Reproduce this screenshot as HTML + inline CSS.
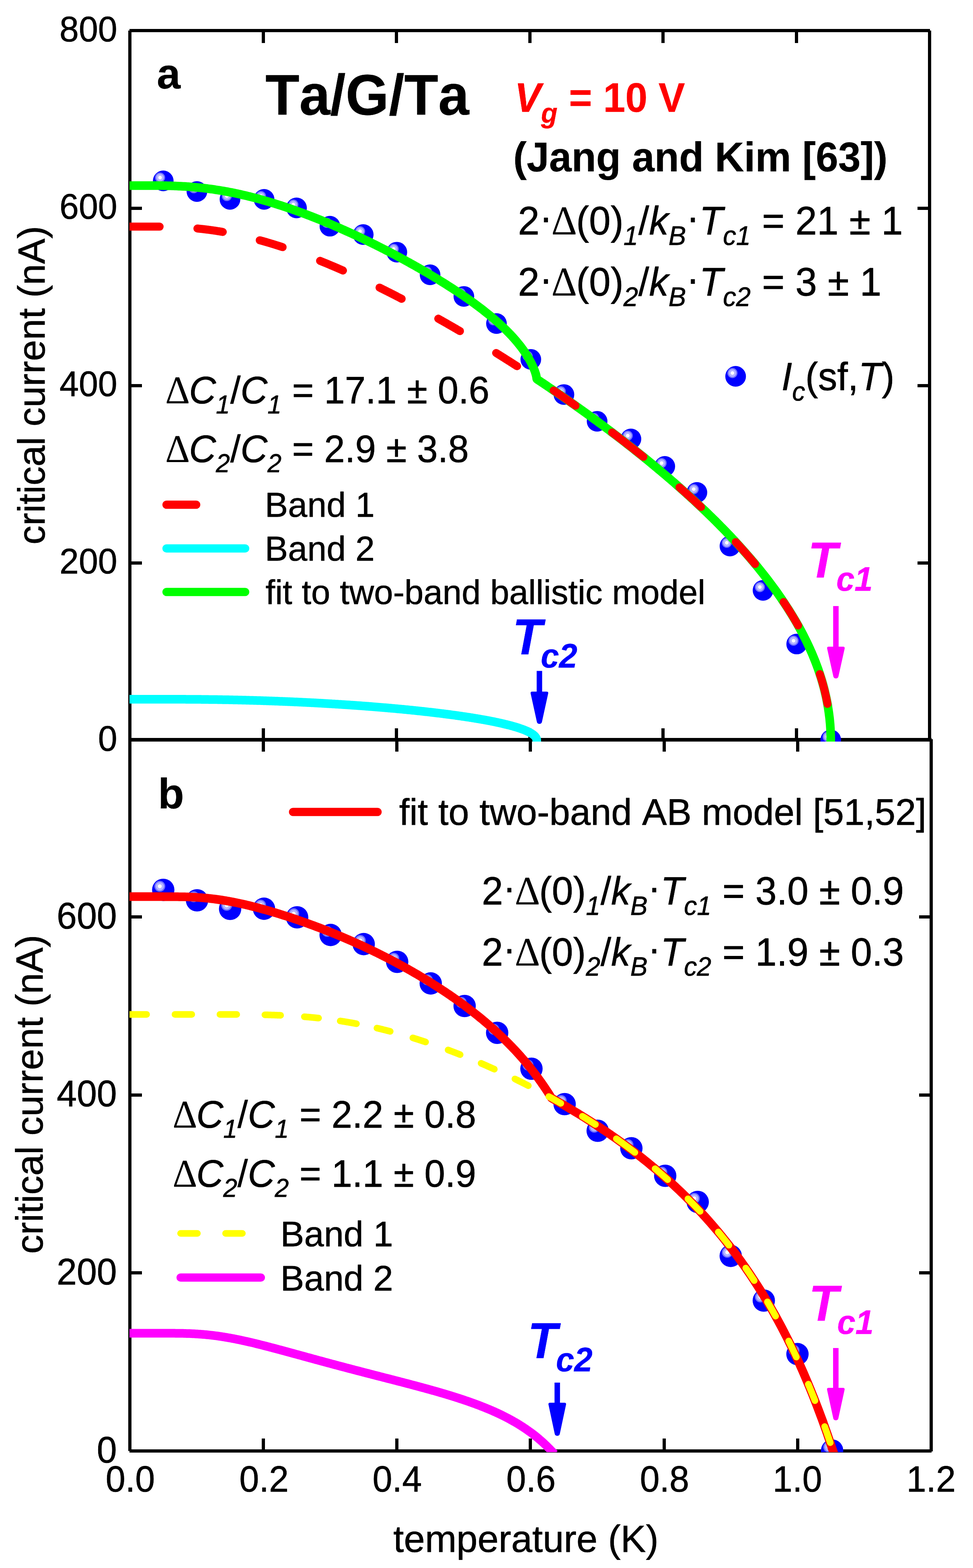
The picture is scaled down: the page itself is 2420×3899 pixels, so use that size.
<!DOCTYPE html>
<html><head><meta charset="utf-8"><title>Ta/G/Ta critical current</title>
<style>html,body{margin:0;padding:0;background:#fff}svg{display:block}text{font-kerning:none;text-rendering:geometricPrecision;white-space:pre}</style></head><body>
<svg width="2420" height="3899" viewBox="0 0 2420 3899">
<rect width="2420" height="3899" fill="#fff"/>
<defs><clipPath id="ca"><rect x="322" y="72" width="1994" height="1772"/></clipPath><clipPath id="cb"><rect x="322" y="1836" width="1998" height="1775"/></clipPath></defs>
<g fill="#000" shape-rendering="crispEdges">
<rect x="319.0" y="76.0" width="8.0" height="3532.0"/>
<rect x="322.0" y="72.0" width="1991.0" height="8.0"/>
<rect x="2308.0" y="76.0" width="8.0" height="1762.0"/>
<rect x="322.0" y="1835.0" width="1995.0" height="9.0"/>
<rect x="2312.0" y="1838.0" width="8.0" height="1771.0"/>
<rect x="322.0" y="3604.0" width="1995.0" height="8.0"/>
<rect x="651.0" y="80.0" width="8.0" height="27.0"/>
<rect x="651.0" y="1811.0" width="8.0" height="25.0"/>
<rect x="651.0" y="1843.0" width="8.0" height="26.0"/>
<rect x="651.0" y="3577.0" width="8.0" height="28.0"/>
<rect x="982.0" y="80.0" width="8.0" height="27.0"/>
<rect x="982.0" y="1811.0" width="8.0" height="25.0"/>
<rect x="983.0" y="1843.0" width="8.0" height="26.0"/>
<rect x="983.0" y="3577.0" width="8.0" height="28.0"/>
<rect x="1314.0" y="80.0" width="8.0" height="27.0"/>
<rect x="1314.0" y="1811.0" width="8.0" height="25.0"/>
<rect x="1315.0" y="1843.0" width="8.0" height="26.0"/>
<rect x="1315.0" y="3577.0" width="8.0" height="28.0"/>
<rect x="1645.0" y="80.0" width="8.0" height="27.0"/>
<rect x="1645.0" y="1811.0" width="8.0" height="25.0"/>
<rect x="1648.0" y="1843.0" width="8.0" height="26.0"/>
<rect x="1648.0" y="3577.0" width="8.0" height="28.0"/>
<rect x="1977.0" y="80.0" width="8.0" height="27.0"/>
<rect x="1977.0" y="1811.0" width="8.0" height="25.0"/>
<rect x="1980.0" y="1843.0" width="8.0" height="26.0"/>
<rect x="1980.0" y="3577.0" width="8.0" height="28.0"/>
<rect x="327.0" y="1396.0" width="26.0" height="8.0"/>
<rect x="2282.0" y="1396.0" width="26.0" height="8.0"/>
<rect x="327.0" y="3161.0" width="26.0" height="8.0"/>
<rect x="2286.0" y="3161.0" width="26.0" height="8.0"/>
<rect x="327.0" y="955.0" width="26.0" height="8.0"/>
<rect x="2282.0" y="955.0" width="26.0" height="8.0"/>
<rect x="327.0" y="2719.0" width="26.0" height="8.0"/>
<rect x="2286.0" y="2719.0" width="26.0" height="8.0"/>
<rect x="327.0" y="514.0" width="26.0" height="8.0"/>
<rect x="2282.0" y="514.0" width="26.0" height="8.0"/>
<rect x="327.0" y="2276.0" width="26.0" height="8.0"/>
<rect x="2286.0" y="2276.0" width="26.0" height="8.0"/>
</g>
<g clip-path="url(#ca)">
<circle cx="406.0" cy="449.8" r="25.7" fill="#0000ff"/>
<circle cx="398.1" cy="441.6" r="12.6" fill="#7070ff"/>
<circle cx="398.1" cy="441.6" r="9.6" fill="#b4b4ff"/>
<circle cx="398.1" cy="441.6" r="4.5" fill="#fcfcff"/>
<circle cx="489.8" cy="476.2" r="25.7" fill="#0000ff"/>
<circle cx="481.9" cy="468.0" r="12.6" fill="#7070ff"/>
<circle cx="481.9" cy="468.0" r="9.6" fill="#b4b4ff"/>
<circle cx="481.9" cy="468.0" r="4.5" fill="#fcfcff"/>
<circle cx="572.0" cy="495.7" r="25.7" fill="#0000ff"/>
<circle cx="564.1" cy="487.5" r="12.6" fill="#7070ff"/>
<circle cx="564.1" cy="487.5" r="9.6" fill="#b4b4ff"/>
<circle cx="564.1" cy="487.5" r="4.5" fill="#fcfcff"/>
<circle cx="656.8" cy="495.7" r="25.7" fill="#0000ff"/>
<circle cx="648.9" cy="487.5" r="12.6" fill="#7070ff"/>
<circle cx="648.9" cy="487.5" r="9.6" fill="#b4b4ff"/>
<circle cx="648.9" cy="487.5" r="4.5" fill="#fcfcff"/>
<circle cx="737.5" cy="517.0" r="25.7" fill="#0000ff"/>
<circle cx="729.6" cy="508.8" r="12.6" fill="#7070ff"/>
<circle cx="729.6" cy="508.8" r="9.6" fill="#b4b4ff"/>
<circle cx="729.6" cy="508.8" r="4.5" fill="#fcfcff"/>
<circle cx="820.5" cy="562.4" r="25.7" fill="#0000ff"/>
<circle cx="812.6" cy="554.2" r="12.6" fill="#7070ff"/>
<circle cx="812.6" cy="554.2" r="9.6" fill="#b4b4ff"/>
<circle cx="812.6" cy="554.2" r="4.5" fill="#fcfcff"/>
<circle cx="903.4" cy="583.3" r="25.7" fill="#0000ff"/>
<circle cx="895.5" cy="575.1" r="12.6" fill="#7070ff"/>
<circle cx="895.5" cy="575.1" r="9.6" fill="#b4b4ff"/>
<circle cx="895.5" cy="575.1" r="4.5" fill="#fcfcff"/>
<circle cx="987.0" cy="627.1" r="25.7" fill="#0000ff"/>
<circle cx="979.1" cy="618.9" r="12.6" fill="#7070ff"/>
<circle cx="979.1" cy="618.9" r="9.6" fill="#b4b4ff"/>
<circle cx="979.1" cy="618.9" r="4.5" fill="#fcfcff"/>
<circle cx="1069.7" cy="683.3" r="25.7" fill="#0000ff"/>
<circle cx="1061.8" cy="675.1" r="12.6" fill="#7070ff"/>
<circle cx="1061.8" cy="675.1" r="9.6" fill="#b4b4ff"/>
<circle cx="1061.8" cy="675.1" r="4.5" fill="#fcfcff"/>
<circle cx="1153.7" cy="737.1" r="25.7" fill="#0000ff"/>
<circle cx="1145.8" cy="728.9" r="12.6" fill="#7070ff"/>
<circle cx="1145.8" cy="728.9" r="9.6" fill="#b4b4ff"/>
<circle cx="1145.8" cy="728.9" r="4.5" fill="#fcfcff"/>
<circle cx="1234.8" cy="804.5" r="25.7" fill="#0000ff"/>
<circle cx="1226.9" cy="796.3" r="12.6" fill="#7070ff"/>
<circle cx="1226.9" cy="796.3" r="9.6" fill="#b4b4ff"/>
<circle cx="1226.9" cy="796.3" r="4.5" fill="#fcfcff"/>
<circle cx="1320.2" cy="893.6" r="25.7" fill="#0000ff"/>
<circle cx="1312.3" cy="885.4" r="12.6" fill="#7070ff"/>
<circle cx="1312.3" cy="885.4" r="9.6" fill="#b4b4ff"/>
<circle cx="1312.3" cy="885.4" r="4.5" fill="#fcfcff"/>
<circle cx="1402.6" cy="981.1" r="25.7" fill="#0000ff"/>
<circle cx="1394.7" cy="972.9" r="12.6" fill="#7070ff"/>
<circle cx="1394.7" cy="972.9" r="9.6" fill="#b4b4ff"/>
<circle cx="1394.7" cy="972.9" r="4.5" fill="#fcfcff"/>
<circle cx="1485.1" cy="1047.6" r="25.7" fill="#0000ff"/>
<circle cx="1477.2" cy="1039.4" r="12.6" fill="#7070ff"/>
<circle cx="1477.2" cy="1039.4" r="9.6" fill="#b4b4ff"/>
<circle cx="1477.2" cy="1039.4" r="4.5" fill="#fcfcff"/>
<circle cx="1569.2" cy="1091.5" r="25.7" fill="#0000ff"/>
<circle cx="1561.3" cy="1083.3" r="12.6" fill="#7070ff"/>
<circle cx="1561.3" cy="1083.3" r="9.6" fill="#b4b4ff"/>
<circle cx="1561.3" cy="1083.3" r="4.5" fill="#fcfcff"/>
<circle cx="1653.4" cy="1159.7" r="25.7" fill="#0000ff"/>
<circle cx="1645.5" cy="1151.5" r="12.6" fill="#7070ff"/>
<circle cx="1645.5" cy="1151.5" r="9.6" fill="#b4b4ff"/>
<circle cx="1645.5" cy="1151.5" r="4.5" fill="#fcfcff"/>
<circle cx="1733.3" cy="1224.5" r="25.7" fill="#0000ff"/>
<circle cx="1725.4" cy="1216.3" r="12.6" fill="#7070ff"/>
<circle cx="1725.4" cy="1216.3" r="9.6" fill="#b4b4ff"/>
<circle cx="1725.4" cy="1216.3" r="4.5" fill="#fcfcff"/>
<circle cx="1815.5" cy="1357.8" r="25.7" fill="#0000ff"/>
<circle cx="1807.6" cy="1349.6" r="12.6" fill="#7070ff"/>
<circle cx="1807.6" cy="1349.6" r="9.6" fill="#b4b4ff"/>
<circle cx="1807.6" cy="1349.6" r="4.5" fill="#fcfcff"/>
<circle cx="1897.8" cy="1468.0" r="25.7" fill="#0000ff"/>
<circle cx="1889.9" cy="1459.8" r="12.6" fill="#7070ff"/>
<circle cx="1889.9" cy="1459.8" r="9.6" fill="#b4b4ff"/>
<circle cx="1889.9" cy="1459.8" r="4.5" fill="#fcfcff"/>
<circle cx="1981.5" cy="1601.4" r="25.7" fill="#0000ff"/>
<circle cx="1973.6" cy="1593.2" r="12.6" fill="#7070ff"/>
<circle cx="1973.6" cy="1593.2" r="9.6" fill="#b4b4ff"/>
<circle cx="1973.6" cy="1593.2" r="4.5" fill="#fcfcff"/>
<circle cx="2066.2" cy="1840.0" r="25.7" fill="#0000ff"/>
<circle cx="2058.3" cy="1831.8" r="12.6" fill="#7070ff"/>
<circle cx="2058.3" cy="1831.8" r="9.6" fill="#b4b4ff"/>
<circle cx="2058.3" cy="1831.8" r="4.5" fill="#fcfcff"/>
<path d="M323.0 1738.7 L325.0 1738.7 L327.1 1738.7 L329.1 1738.7 L331.1 1738.7 L333.1 1738.7 L335.2 1738.7 L337.2 1738.7 L339.2 1738.7 L341.3 1738.7 L343.3 1738.7 L345.3 1738.7 L347.3 1738.7 L349.4 1738.7 L351.4 1738.7 L353.4 1738.7 L355.4 1738.7 L357.5 1738.7 L359.5 1738.7 L361.5 1738.7 L363.6 1738.7 L365.6 1738.7 L367.6 1738.7 L369.6 1738.7 L371.7 1738.7 L373.7 1738.7 L375.7 1738.7 L377.8 1738.7 L379.8 1738.7 L381.8 1738.7 L383.8 1738.7 L385.9 1738.7 L387.9 1738.7 L389.9 1738.7 L391.9 1738.7 L394.0 1738.7 L396.0 1738.7 L398.0 1738.7 L400.1 1738.7 L402.1 1738.7 L404.1 1738.7 L406.1 1738.7 L408.2 1738.7 L410.2 1738.7 L412.2 1738.7 L414.3 1738.7 L416.3 1738.7 L418.3 1738.7 L420.3 1738.7 L422.4 1738.7 L424.4 1738.7 L426.4 1738.7 L428.4 1738.7 L430.5 1738.7 L432.5 1738.7 L434.5 1738.7 L436.6 1738.7 L438.6 1738.7 L440.6 1738.8 L442.6 1738.8 L444.7 1738.8 L446.7 1738.8 L448.7 1738.8 L450.8 1738.8 L452.8 1738.8 L454.8 1738.8 L456.8 1738.8 L458.9 1738.8 L460.9 1738.8 L462.9 1738.9 L464.9 1738.9 L467.0 1738.9 L469.0 1738.9 L471.0 1738.9 L473.1 1738.9 L475.1 1738.9 L477.1 1738.9 L479.1 1739.0 L481.2 1739.0 L483.2 1739.0 L485.2 1739.0 L487.3 1739.0 L489.3 1739.0 L491.3 1739.1 L493.3 1739.1 L495.4 1739.1 L497.4 1739.1 L499.4 1739.1 L501.4 1739.2 L503.5 1739.2 L505.5 1739.2 L507.5 1739.2 L509.6 1739.2 L511.6 1739.3 L513.6 1739.3 L515.6 1739.3 L517.7 1739.3 L519.7 1739.4 L521.7 1739.4 L523.8 1739.4 L525.8 1739.4 L527.8 1739.5 L529.8 1739.5 L531.9 1739.5 L533.9 1739.6 L535.9 1739.6 L537.9 1739.6 L540.0 1739.6 L542.0 1739.7 L544.0 1739.7 L546.1 1739.7 L548.1 1739.8 L550.1 1739.8 L552.1 1739.8 L554.2 1739.9 L556.2 1739.9 L558.2 1740.0 L560.3 1740.0 L562.3 1740.0 L564.3 1740.1 L566.3 1740.1 L568.4 1740.1 L570.4 1740.2 L572.4 1740.2 L574.4 1740.3 L576.5 1740.3 L578.5 1740.3 L580.5 1740.4 L582.6 1740.4 L584.6 1740.5 L586.6 1740.5 L588.6 1740.6 L590.7 1740.6 L592.7 1740.7 L594.7 1740.7 L596.8 1740.8 L598.8 1740.8 L600.8 1740.8 L602.8 1740.9 L604.9 1740.9 L606.9 1741.0 L608.9 1741.1 L610.9 1741.1 L613.0 1741.2 L615.0 1741.2 L617.0 1741.3 L619.1 1741.3 L621.1 1741.4 L623.1 1741.4 L625.1 1741.5 L627.2 1741.5 L629.2 1741.6 L631.2 1741.7 L633.3 1741.7 L635.3 1741.8 L637.3 1741.8 L639.3 1741.9 L641.4 1742.0 L643.4 1742.0 L645.4 1742.1 L647.4 1742.1 L649.5 1742.2 L651.5 1742.3 L653.5 1742.3 L655.6 1742.4 L657.6 1742.5 L659.6 1742.5 L661.6 1742.6 L663.7 1742.7 L665.7 1742.7 L667.7 1742.8 L669.8 1742.9 L671.8 1743.0 L673.8 1743.0 L675.8 1743.1 L677.9 1743.2 L679.9 1743.2 L681.9 1743.3 L684.0 1743.4 L686.0 1743.5 L688.0 1743.5 L690.0 1743.6 L692.1 1743.7 L694.1 1743.8 L696.1 1743.9 L698.1 1743.9 L700.2 1744.0 L702.2 1744.1 L704.2 1744.2 L706.3 1744.3 L708.3 1744.3 L710.3 1744.4 L712.3 1744.5 L714.4 1744.6 L716.4 1744.7 L718.4 1744.8 L720.5 1744.8 L722.5 1744.9 L724.5 1745.0 L726.5 1745.1 L728.6 1745.2 L730.6 1745.3 L732.6 1745.4 L734.6 1745.5 L736.7 1745.6 L738.7 1745.6 L740.7 1745.7 L742.8 1745.8 L744.8 1745.9 L746.8 1746.0 L748.8 1746.1 L750.9 1746.2 L752.9 1746.3 L754.9 1746.4 L757.0 1746.5 L759.0 1746.6 L761.0 1746.7 L763.0 1746.8 L765.1 1746.9 L767.1 1747.0 L769.1 1747.1 L771.1 1747.2 L773.2 1747.3 L775.2 1747.4 L777.2 1747.5 L779.3 1747.6 L781.3 1747.7 L783.3 1747.8 L785.3 1748.0 L787.4 1748.1 L789.4 1748.2 L791.4 1748.3 L793.5 1748.4 L795.5 1748.5 L797.5 1748.6 L799.5 1748.7 L801.6 1748.8 L803.6 1749.0 L805.6 1749.1 L807.6 1749.2 L809.7 1749.3 L811.7 1749.4 L813.7 1749.5 L815.8 1749.7 L817.8 1749.8 L819.8 1749.9 L821.8 1750.0 L823.9 1750.1 L825.9 1750.3 L827.9 1750.4 L830.0 1750.5 L832.0 1750.6 L834.0 1750.8 L836.0 1750.9 L838.1 1751.0 L840.1 1751.1 L842.1 1751.3 L844.1 1751.4 L846.2 1751.5 L848.2 1751.6 L850.2 1751.8 L852.3 1751.9 L854.3 1752.0 L856.3 1752.2 L858.3 1752.3 L860.4 1752.4 L862.4 1752.6 L864.4 1752.7 L866.5 1752.8 L868.5 1753.0 L870.5 1753.1 L872.5 1753.3 L874.6 1753.4 L876.6 1753.5 L878.6 1753.7 L880.6 1753.8 L882.7 1754.0 L884.7 1754.1 L886.7 1754.2 L888.8 1754.4 L890.8 1754.5 L892.8 1754.7 L894.8 1754.8 L896.9 1755.0 L898.9 1755.1 L900.9 1755.3 L903.0 1755.4 L905.0 1755.6 L907.0 1755.7 L909.0 1755.9 L911.1 1756.0 L913.1 1756.2 L915.1 1756.3 L917.1 1756.5 L919.2 1756.7 L921.2 1756.8 L923.2 1757.0 L925.3 1757.1 L927.3 1757.3 L929.3 1757.4 L931.3 1757.6 L933.4 1757.8 L935.4 1757.9 L937.4 1758.1 L939.5 1758.3 L941.5 1758.4 L943.5 1758.6 L945.5 1758.8 L947.6 1758.9 L949.6 1759.1 L951.6 1759.3 L953.6 1759.4 L955.7 1759.6 L957.7 1759.8 L959.7 1760.0 L961.8 1760.1 L963.8 1760.3 L965.8 1760.5 L967.8 1760.7 L969.9 1760.8 L971.9 1761.0 L973.9 1761.2 L976.0 1761.4 L978.0 1761.6 L980.0 1761.7 L982.0 1761.9 L984.1 1762.1 L986.1 1762.3 L988.1 1762.5 L990.1 1762.7 L992.2 1762.9 L994.2 1763.1 L996.2 1763.2 L998.3 1763.4 L1000.3 1763.6 L1002.3 1763.8 L1004.3 1764.0 L1006.4 1764.2 L1008.4 1764.4 L1010.4 1764.6 L1012.5 1764.8 L1014.5 1765.0 L1016.5 1765.2 L1018.5 1765.4 L1020.6 1765.6 L1022.6 1765.8 L1024.6 1766.0 L1026.7 1766.2 L1028.7 1766.4 L1030.7 1766.6 L1032.7 1766.8 L1034.8 1767.1 L1036.8 1767.3 L1038.8 1767.5 L1040.8 1767.7 L1042.9 1767.9 L1044.9 1768.1 L1046.9 1768.3 L1049.0 1768.6 L1051.0 1768.8 L1053.0 1769.0 L1055.0 1769.2 L1057.1 1769.5 L1059.1 1769.7 L1061.1 1769.9 L1063.2 1770.1 L1065.2 1770.4 L1067.2 1770.6 L1069.2 1770.8 L1071.3 1771.0 L1073.3 1771.3 L1075.3 1771.5 L1077.3 1771.8 L1079.4 1772.0 L1081.4 1772.2 L1083.4 1772.5 L1085.5 1772.7 L1087.5 1773.0 L1089.5 1773.2 L1091.5 1773.4 L1093.6 1773.7 L1095.6 1773.9 L1097.6 1774.2 L1099.7 1774.4 L1101.7 1774.7 L1103.7 1775.0 L1105.7 1775.2 L1107.8 1775.5 L1109.8 1775.7 L1111.8 1776.0 L1113.8 1776.3 L1115.9 1776.5 L1117.9 1776.8 L1119.9 1777.0 L1122.0 1777.3 L1124.0 1777.6 L1126.0 1777.9 L1128.0 1778.1 L1130.1 1778.4 L1132.1 1778.7 L1134.1 1779.0 L1136.2 1779.3 L1138.2 1779.5 L1140.2 1779.8 L1142.2 1780.1 L1144.3 1780.4 L1146.3 1780.7 L1148.3 1781.0 L1150.3 1781.3 L1152.4 1781.6 L1154.4 1781.9 L1156.4 1782.2 L1158.5 1782.5 L1160.5 1782.8 L1162.5 1783.1 L1164.5 1783.4 L1166.6 1783.7 L1168.6 1784.0 L1170.6 1784.4 L1172.7 1784.7 L1174.7 1785.0 L1176.7 1785.3 L1178.7 1785.6 L1180.8 1786.0 L1182.8 1786.3 L1184.8 1786.6 L1186.8 1787.0 L1188.9 1787.3 L1190.9 1787.7 L1192.9 1788.0 L1195.0 1788.4 L1197.0 1788.7 L1199.0 1789.1 L1201.0 1789.4 L1203.1 1789.8 L1205.1 1790.2 L1207.1 1790.5 L1209.2 1790.9 L1211.2 1791.3 L1213.2 1791.7 L1215.2 1792.0 L1217.3 1792.4 L1219.3 1792.8 L1221.3 1793.2 L1223.3 1793.6 L1225.4 1794.0 L1227.4 1794.4 L1229.4 1794.8 L1231.5 1795.3 L1233.5 1795.7 L1235.5 1796.1 L1237.5 1796.5 L1239.6 1797.0 L1241.6 1797.4 L1243.6 1797.9 L1245.7 1798.3 L1247.7 1798.8 L1249.7 1799.2 L1251.7 1799.7 L1253.8 1800.2 L1255.8 1800.7 L1257.8 1801.2 L1259.8 1801.6 L1261.9 1802.2 L1263.9 1802.7 L1265.7 1803.1 L1268.0 1803.7 L1270.0 1804.3 L1272.0 1804.8 L1274.0 1805.4 L1276.1 1805.9 L1277.3 1806.3 L1280.1 1807.1 L1282.2 1807.7 L1284.2 1808.3 L1286.2 1808.9 L1288.2 1809.6 L1290.3 1810.2 L1292.3 1810.9 L1294.3 1811.6 L1296.3 1812.3 L1298.4 1813.0 L1300.4 1813.8 L1301.7 1814.2 L1304.5 1815.3 L1306.5 1816.2 L1308.5 1817.0 L1310.5 1817.9 L1311.9 1818.5 L1314.6 1819.8 L1315.7 1820.4 L1318.7 1821.9 L1320.7 1823.1 L1322.7 1824.4 L1323.8 1825.1 L1324.7 1825.7 L1325.7 1826.4 L1326.8 1827.3 L1328.5 1828.7 L1329.6 1829.7 L1330.5 1830.7 L1331.2 1831.5 L1332.3 1833.0 L1333.1 1834.2 L1333.7 1835.2 L1334.2 1836.5 L1334.5 1837.7 L1334.8 1839.0 L1334.9 1840.5" fill="none" stroke="#00ffff" stroke-width="21.5" stroke-linecap="square" stroke-linejoin="round"/>
<path d="M323.0 461.4 L326.5 461.4 L330.0 461.4 L333.5 461.4 L337.0 461.4 L340.5 461.4 L344.0 461.4 L347.5 461.4 L350.9 461.4 L354.4 461.4 L357.9 461.4 L361.4 461.4 L364.9 461.4 L368.4 461.4 L371.9 461.4 L375.4 461.4 L378.9 461.5 L382.4 461.5 L385.9 461.5 L389.4 461.5 L392.9 461.5 L396.4 461.6 L399.9 461.6 L403.3 461.6 L406.8 461.7 L410.3 461.8 L413.8 461.8 L417.3 461.9 L420.8 462.0 L424.3 462.1 L427.8 462.2 L431.3 462.3 L434.8 462.4 L438.3 462.6 L441.8 462.7 L445.3 462.9 L448.8 463.0 L452.3 463.2 L455.8 463.4 L459.2 463.6 L462.7 463.8 L466.2 464.1 L469.7 464.3 L473.2 464.6 L476.7 464.9 L480.2 465.2 L483.7 465.5 L487.2 465.8 L490.7 466.1 L494.2 466.5 L497.7 466.8 L501.2 467.2 L504.7 467.6 L508.2 468.0 L511.6 468.4 L515.1 468.8 L518.6 469.3 L522.1 469.8 L525.6 470.2 L529.1 470.7 L532.6 471.2 L536.1 471.8 L539.6 472.3 L543.1 472.8 L546.6 473.4 L550.1 474.0 L553.6 474.6 L557.1 475.2 L560.6 475.8 L564.0 476.4 L567.5 477.1 L571.0 477.8 L574.5 478.4 L578.0 479.1 L581.5 479.8 L585.0 480.6 L588.5 481.3 L592.0 482.1 L595.5 482.8 L599.0 483.6 L602.5 484.4 L606.0 485.2 L609.5 486.0 L613.0 486.8 L616.4 487.7 L619.9 488.5 L623.4 489.4 L626.9 490.3 L630.4 491.2 L633.9 492.1 L637.4 493.0 L640.9 493.9 L644.4 494.9 L647.9 495.8 L651.4 496.8 L654.9 497.8 L658.4 498.8 L661.9 499.8 L665.4 500.8 L668.8 501.8 L672.3 502.9 L675.8 503.9 L679.3 505.0 L682.8 506.1 L686.3 507.2 L689.8 508.3 L693.3 509.4 L696.8 510.5 L700.3 511.6 L703.8 512.8 L707.3 513.9 L710.8 515.1 L714.3 516.3 L717.8 517.5 L721.3 518.7 L724.7 519.9 L728.2 521.1 L731.7 522.3 L735.2 523.5 L738.7 524.8 L742.2 526.1 L745.7 527.3 L749.2 528.6 L752.7 529.9 L756.2 531.2 L759.7 532.5 L763.2 533.8 L766.7 535.2 L770.2 536.5 L773.7 537.8 L777.1 539.2 L780.6 540.6 L784.1 541.9 L787.6 543.3 L791.1 544.7 L794.6 546.1 L798.1 547.5 L801.6 549.0 L805.1 550.4 L808.6 551.8 L812.1 553.3 L815.6 554.7 L819.1 556.2 L822.6 557.7 L826.1 559.2 L829.5 560.6 L833.0 562.1 L836.5 563.7 L840.0 565.2 L843.5 566.7 L847.0 568.2 L850.5 569.8 L854.0 571.3 L857.5 572.9 L861.0 574.5 L864.5 576.0 L868.0 577.6 L871.5 579.2 L875.0 580.8 L878.5 582.4 L881.9 584.0 L885.4 585.7 L888.9 587.3 L892.4 588.9 L895.9 590.6 L899.4 592.2 L902.9 593.9 L906.4 595.6 L909.9 597.3 L913.4 598.9 L916.9 600.6 L920.4 602.4 L923.9 604.1 L927.4 605.8 L930.9 607.5 L934.4 609.2 L937.8 611.0 L941.3 612.7 L944.8 614.5 L948.3 616.3 L951.8 618.0 L955.3 619.8 L958.8 621.6 L962.3 623.4 L965.8 625.2 L969.3 627.0 L972.8 628.9 L976.3 630.7 L979.8 632.5 L983.3 634.4 L986.8 636.2 L990.2 638.1 L993.7 640.0 L997.2 641.9 L1000.7 643.7 L1004.2 645.6 L1007.7 647.5 L1011.2 649.5 L1014.7 651.4 L1018.2 653.3 L1021.7 655.3 L1025.2 657.2 L1028.7 659.2 L1032.2 661.1 L1035.7 663.1 L1039.2 665.1 L1042.6 667.1 L1046.1 669.1 L1049.6 671.1 L1053.1 673.1 L1056.6 675.2 L1060.1 677.2 L1063.6 679.2 L1067.1 681.3 L1070.6 683.4 L1074.1 685.5 L1077.6 687.6 L1081.1 689.7 L1084.6 691.8 L1088.1 693.9 L1091.6 696.0 L1095.0 698.2 L1098.5 700.4 L1102.0 702.5 L1105.5 704.7 L1109.0 706.9 L1112.5 709.1 L1116.0 711.4 L1119.5 713.6 L1123.0 715.8 L1126.5 718.1 L1130.0 720.4 L1133.5 722.7 L1137.0 725.0 L1140.5 727.3 L1144.0 729.7 L1147.4 732.0 L1150.9 734.4 L1154.4 736.8 L1157.9 739.2 L1161.4 741.6 L1164.9 744.1 L1168.4 746.6 L1171.9 749.1 L1175.4 751.6 L1178.9 754.1 L1182.4 756.7 L1185.9 759.2 L1189.4 761.8 L1192.9 764.5 L1196.4 767.1 L1199.9 769.8 L1203.3 772.5 L1206.8 775.3 L1210.3 778.1 L1213.8 780.9 L1217.3 783.7 L1220.8 786.6 L1224.3 789.5 L1227.8 792.5 L1231.3 795.5 L1234.8 798.5 L1238.3 801.6 L1241.8 804.8 L1245.3 808.0 L1248.8 811.2 L1251.8 814.1 L1255.7 817.9 L1259.2 821.3 L1262.7 824.8 L1265.7 827.8 L1269.7 832.0 L1273.2 835.8 L1276.7 839.6 L1280.2 843.6 L1283.7 847.6 L1286.9 851.5 L1290.7 856.1 L1294.2 860.5 L1295.0 861.5 L1297.7 865.1 L1301.2 869.9 L1304.7 874.9 L1307.2 878.7 L1308.1 880.1 L1311.6 885.6 L1315.1 891.4 L1315.7 892.4 L1318.6 897.6 L1321.6 903.2 L1322.1 904.3 L1323.8 907.8 L1325.6 911.6 L1327.2 915.3 L1328.5 918.5 L1329.1 920.0 L1329.6 921.3 L1330.5 923.7 L1331.2 925.9 L1331.8 927.8 L1332.3 929.5 L1332.8 931.0 L1333.1 932.4 L1333.7 934.6 L1334.0 936.3 L1334.3 937.6 L1334.5 939.1 L1334.7 940.7 L1334.9 942.1 L1335.6 943.0 L1336.6 943.7 L1337.9 944.6 L1339.3 945.5 L1341.3 946.8 L1342.5 947.7 L1344.1 948.7 L1345.9 949.9 L1348.2 951.4 L1350.1 952.7 L1353.6 955.0 L1357.1 957.4 L1360.5 959.7 L1362.5 961.1 L1364.0 962.1 L1367.5 964.5 L1371.0 966.9 L1374.5 969.2 L1378.0 971.6 L1381.5 974.0 L1382.8 974.9 L1385.0 976.4 L1388.5 978.8 L1392.0 981.2 L1395.5 983.6 L1399.0 986.0 L1402.5 988.5 L1404.0 989.6 L1406.0 990.9 L1409.5 993.3 L1412.9 995.8 L1416.4 998.2 L1418.0 999.3 L1419.9 1000.7 L1423.4 1003.1 L1426.9 1005.6 L1430.4 1008.0 L1433.9 1010.5 L1437.4 1013.0 L1440.9 1015.5 L1444.4 1018.0 L1447.9 1020.5 L1451.4 1023.0 L1454.9 1025.5 L1458.4 1028.0 L1461.9 1030.5 L1465.4 1033.1 L1468.8 1035.6 L1472.3 1038.2 L1475.8 1040.7 L1479.3 1043.3 L1482.8 1045.8 L1486.3 1048.4 L1489.8 1051.0 L1493.3 1053.6 L1496.8 1056.1 L1500.3 1058.7 L1503.8 1061.3 L1507.3 1064.0 L1510.8 1066.6 L1514.3 1069.2 L1517.8 1071.8 L1521.2 1074.5 L1524.7 1077.1 L1528.2 1079.8 L1531.7 1082.4 L1535.2 1085.1 L1538.7 1087.8 L1542.2 1090.4 L1545.7 1093.1 L1549.2 1095.8 L1552.7 1098.5 L1556.2 1101.2 L1559.7 1104.0 L1563.2 1106.7 L1566.7 1109.4 L1570.2 1112.2 L1573.6 1114.9 L1577.1 1117.7 L1580.6 1120.5 L1584.1 1123.2 L1587.6 1126.0 L1591.1 1128.8 L1594.6 1131.6 L1598.1 1134.4 L1601.6 1137.2 L1605.1 1140.1 L1608.6 1142.9 L1612.1 1145.8 L1615.6 1148.6 L1619.1 1151.5 L1622.6 1154.4 L1626.0 1157.2 L1629.5 1160.1 L1633.0 1163.0 L1636.5 1166.0 L1640.0 1168.9 L1643.5 1171.8 L1647.0 1174.8 L1650.5 1177.7 L1654.0 1180.7 L1657.5 1183.7 L1661.0 1186.6 L1664.5 1189.6 L1668.0 1192.6 L1671.5 1195.7 L1675.0 1198.7 L1678.5 1201.7 L1681.9 1204.8 L1685.4 1207.9 L1688.9 1210.9 L1692.4 1214.0 L1695.9 1217.1 L1699.4 1220.2 L1702.9 1223.4 L1706.4 1226.5 L1709.9 1229.7 L1713.4 1232.8 L1716.9 1236.0 L1720.4 1239.2 L1723.9 1242.4 L1727.4 1245.6 L1730.9 1248.9 L1734.3 1252.1 L1737.8 1255.4 L1741.3 1258.7 L1744.8 1262.0 L1748.3 1265.3 L1751.8 1268.6 L1755.3 1271.9 L1758.8 1275.3 L1762.3 1278.7 L1765.8 1282.1 L1769.3 1285.5 L1772.8 1288.9 L1776.3 1292.4 L1779.8 1295.8 L1783.3 1299.3 L1786.7 1302.8 L1790.2 1306.3 L1793.7 1309.9 L1797.2 1313.4 L1800.7 1317.0 L1804.2 1320.6 L1807.7 1324.2 L1811.2 1327.9 L1814.7 1331.5 L1818.2 1335.2 L1821.7 1339.0 L1825.2 1342.7 L1828.7 1346.4 L1832.2 1350.2 L1835.7 1354.0 L1839.1 1357.9 L1842.6 1361.7 L1846.1 1365.6 L1849.6 1369.6 L1853.1 1373.5 L1856.6 1377.5 L1860.1 1381.5 L1863.6 1385.5 L1867.1 1389.6 L1870.6 1393.7 L1874.1 1397.8 L1877.6 1402.0 L1881.1 1406.2 L1884.6 1410.4 L1888.1 1414.7 L1891.5 1419.0 L1895.0 1423.4 L1898.5 1427.8 L1902.0 1432.2 L1905.5 1436.7 L1909.0 1441.2 L1912.5 1445.8 L1916.0 1450.4 L1919.5 1455.1 L1923.0 1459.8 L1926.5 1464.6 L1930.0 1469.4 L1933.5 1474.3 L1937.0 1479.3 L1940.5 1484.3 L1944.0 1489.4 L1947.4 1494.6 L1950.9 1499.8 L1954.4 1505.1 L1957.9 1510.5 L1961.4 1515.9 L1964.9 1521.5 L1968.4 1527.1 L1971.9 1532.8 L1975.4 1538.7 L1978.9 1544.6 L1982.4 1550.7 L1983.1 1552.0 L1985.9 1556.9 L1989.4 1563.2 L1992.9 1569.7 L1996.4 1576.3 L1997.1 1577.6 L1999.8 1583.0 L2003.3 1590.0 L2006.8 1597.1 L2008.6 1600.9 L2010.3 1604.4 L2013.8 1612.0 L2017.3 1619.8 L2018.3 1622.0 L2020.8 1627.9 L2024.3 1636.3 L2026.3 1641.3 L2027.8 1645.0 L2031.3 1654.2 L2033.0 1658.9 L2034.8 1663.8 L2038.3 1674.0 L2041.8 1684.8 L2043.2 1689.4 L2045.3 1696.4 L2047.1 1702.7 L2048.8 1709.0 L2050.3 1714.8 L2052.2 1722.9 L2052.9 1725.9 L2055.2 1735.9 L2055.7 1738.7 L2057.0 1745.1 L2058.6 1753.5 L2059.2 1757.4 L2059.8 1761.1 L2060.9 1768.1 L2061.8 1774.4 L2062.5 1780.2 L2062.7 1781.7 L2063.2 1785.5 L2063.7 1790.3 L2064.1 1794.7 L2064.5 1798.7 L2064.8 1802.4 L2065.0 1805.7 L2065.2 1808.8 L2065.4 1811.6 L2065.5 1814.1 L2065.6 1816.4 L2065.7 1818.5 L2065.8 1820.5 L2065.9 1822.2 L2065.9 1823.8 L2066.0 1825.3 L2066.1 1827.8 L2066.1 1830.0 L2066.1 1831.7 L2066.2 1833.8 L2066.2 1835.4 L2066.2 1837.0 L2066.2 1838.7 L2066.2 1840.5" fill="none" stroke="#00ff00" stroke-width="21.5" stroke-linecap="square" stroke-linejoin="round"/>
<path d="M323.0 563.5 L324.6 563.5 L326.3 563.5 L327.9 563.5 L329.5 563.5 L331.2 563.5 L332.8 563.5 L334.4 563.5 L336.1 563.5 L337.7 563.5 L339.3 563.5 L340.9 563.5 L342.6 563.5 L344.2 563.5 L345.8 563.5 L347.5 563.5 L349.1 563.5 L350.7 563.5 L352.4 563.5 L354.0 563.5 L355.6 563.5 L357.3 563.5 L358.9 563.5 L360.5 563.5 L362.2 563.5 L363.8 563.5 L365.4 563.5 L367.0 563.5 L368.7 563.5 L370.3 563.5 L371.9 563.5 L373.6 563.5 L375.2 563.5 L376.8 563.5 L378.5 563.5 L380.1 563.5 L381.7 563.5 L383.4 563.5 L385.0 563.5 L386.6 563.6 L388.3 563.6 L389.9 563.6 L391.5 563.6 L393.1 563.6 L394.8 563.6 L396.4 563.6 L397.0 563.6" fill="none" stroke="#ff0000" stroke-width="20" stroke-linecap="round" stroke-linejoin="round"/>
<path d="M491.0 568.2 L492.4 568.3 L493.8 568.5 L495.2 568.6 L496.6 568.8 L497.9 568.9 L499.3 569.1 L500.7 569.2 L502.1 569.4 L503.5 569.5 L504.9 569.7 L506.3 569.8 L507.7 570.0 L509.1 570.2 L510.4 570.3 L511.8 570.5 L513.2 570.7 L514.6 570.8 L516.0 571.0 L517.4 571.2 L518.8 571.4 L520.2 571.6 L521.6 571.7 L522.9 571.9 L524.3 572.1 L525.7 572.3 L527.1 572.5 L528.5 572.7 L529.9 572.9 L531.3 573.1 L532.7 573.3 L534.1 573.5 L535.4 573.7 L536.8 573.9 L538.2 574.1 L539.6 574.4 L541.0 574.6 L542.4 574.8 L543.8 575.0 L545.2 575.2 L546.6 575.5 L547.9 575.7 L549.3 575.9 L550.7 576.2 L552.1 576.4 L553.5 576.6 L554.0 576.7" fill="none" stroke="#ff0000" stroke-width="20" stroke-linecap="round" stroke-linejoin="round"/>
<path d="M646.0 597.4 L647.3 597.7 L648.5 598.1 L649.8 598.4 L651.0 598.8 L652.3 599.1 L653.5 599.5 L654.8 599.8 L656.1 600.2 L657.3 600.5 L658.6 600.9 L659.8 601.3 L661.1 601.6 L662.3 602.0 L663.6 602.3 L664.8 602.7 L666.1 603.1 L667.4 603.4 L668.6 603.8 L669.9 604.2 L671.1 604.6 L672.4 604.9 L673.6 605.3 L674.9 605.7 L676.2 606.1 L677.4 606.5 L678.7 606.8 L679.9 607.2 L681.2 607.6 L682.4 608.0 L683.7 608.4 L685.0 608.8 L686.2 609.2 L687.5 609.6 L688.6 609.9 L689.7 610.3 L690.9 610.6 L692.0 611.0 L693.2 611.4 L694.3 611.7 L695.5 612.1 L696.6 612.5 L697.7 612.8 L698.9 613.2 L700.0 613.6 L701.2 614.0 L702.3 614.3 L703.0 614.5" fill="none" stroke="#ff0000" stroke-width="20" stroke-linecap="round" stroke-linejoin="round"/>
<path d="M796.0 648.6 L797.1 649.1 L798.3 649.5 L799.4 650.0 L800.6 650.4 L801.7 650.9 L802.9 651.4 L804.0 651.8 L805.1 652.3 L806.3 652.8 L807.4 653.2 L808.6 653.7 L809.7 654.2 L810.8 654.6 L812.0 655.1 L813.1 655.6 L814.3 656.1 L815.4 656.5 L816.6 657.0 L817.7 657.5 L818.8 658.0 L820.0 658.4 L821.1 658.9 L822.3 659.4 L823.4 659.9 L824.6 660.4 L825.7 660.8 L826.8 661.3 L828.0 661.8 L829.1 662.3 L830.3 662.8 L831.4 663.3 L832.6 663.8 L833.7 664.2 L834.8 664.7 L836.0 665.2 L837.1 665.7 L838.3 666.2 L839.4 666.7 L840.5 667.2 L841.7 667.7 L842.8 668.2 L844.0 668.7 L845.1 669.2 L846.3 669.7 L847.4 670.2 L848.5 670.7 L849.7 671.2 L850.8 671.7 L852.0 672.2 L853.0 672.6" fill="none" stroke="#ff0000" stroke-width="20" stroke-linecap="round" stroke-linejoin="round"/>
<path d="M944.0 715.2 L945.1 715.7 L946.2 716.2 L947.3 716.8 L948.4 717.3 L949.5 717.9 L950.6 718.4 L951.7 719.0 L952.8 719.5 L953.9 720.1 L955.0 720.6 L956.1 721.2 L957.2 721.7 L958.3 722.3 L959.4 722.8 L960.5 723.4 L961.6 723.9 L962.7 724.5 L963.8 725.0 L964.9 725.6 L966.0 726.2 L967.1 726.7 L968.2 727.3 L969.4 727.8 L970.5 728.4 L971.6 728.9 L972.7 729.5 L973.8 730.1 L974.9 730.6 L976.0 731.2 L977.1 731.7 L978.2 732.3 L979.3 732.9 L980.4 733.4 L981.5 734.0 L982.5 734.5 L983.5 735.0 L984.5 735.5 L985.4 736.0 L986.4 736.5 L987.4 737.1 L988.4 737.6 L989.4 738.1 L990.4 738.6 L991.4 739.1 L992.4 739.6 L993.4 740.1 L994.4 740.6 L995.4 741.2 L996.4 741.7 L997.3 742.2 L998.3 742.7 L999.0 743.0" fill="none" stroke="#ff0000" stroke-width="20" stroke-linecap="round" stroke-linejoin="round"/>
<path d="M1090.0 792.4 L1091.0 792.9 L1091.9 793.5 L1092.9 794.0 L1093.9 794.6 L1094.9 795.1 L1095.8 795.7 L1096.8 796.2 L1097.8 796.8 L1098.8 797.3 L1099.7 797.9 L1100.7 798.4 L1101.7 799.0 L1102.7 799.5 L1103.6 800.1 L1104.6 800.6 L1105.6 801.2 L1106.6 801.7 L1107.5 802.3 L1108.5 802.8 L1109.5 803.4 L1110.5 803.9 L1111.4 804.5 L1112.4 805.1 L1113.4 805.6 L1114.3 806.2 L1115.3 806.7 L1116.3 807.3 L1117.3 807.9 L1118.2 808.4 L1119.2 809.0 L1120.2 809.5 L1121.2 810.1 L1122.1 810.7 L1123.1 811.2 L1124.1 811.8 L1125.1 812.3 L1126.0 812.9 L1127.0 813.5 L1128.0 814.0 L1129.0 814.6 L1129.9 815.2 L1130.9 815.7 L1131.9 816.3 L1132.9 816.8 L1133.8 817.4 L1134.8 818.0 L1135.8 818.5 L1136.7 819.1 L1137.7 819.7 L1138.7 820.2 L1139.7 820.8 L1140.6 821.4 L1141.6 822.0 L1142.6 822.5 L1143.6 823.1 L1144.0 823.3" fill="none" stroke="#ff0000" stroke-width="20" stroke-linecap="round" stroke-linejoin="round"/>
<path d="M1234.0 877.7 L1234.9 878.3 L1235.9 878.9 L1236.8 879.4 L1237.8 880.0 L1238.7 880.6 L1239.6 881.2 L1240.6 881.8 L1241.5 882.4 L1242.4 883.0 L1243.4 883.5 L1244.3 884.1 L1245.3 884.7 L1246.2 885.3 L1247.1 885.9 L1248.1 886.5 L1249.0 887.1 L1249.9 887.7 L1250.9 888.2 L1251.8 888.8 L1252.8 889.4 L1253.7 890.0 L1254.6 890.6 L1255.6 891.2 L1256.5 891.8 L1257.4 892.4 L1258.4 893.0 L1259.3 893.6 L1260.3 894.2 L1261.2 894.8 L1262.1 895.4 L1263.1 895.9 L1264.0 896.5 L1264.9 897.1 L1265.9 897.7 L1266.8 898.3 L1267.8 898.9 L1268.7 899.5 L1269.6 900.1 L1270.6 900.7 L1271.5 901.3 L1272.5 901.9 L1273.4 902.5 L1274.3 903.1 L1275.3 903.7 L1276.2 904.3 L1277.1 904.9 L1278.1 905.5 L1279.0 906.1 L1280.0 906.7 L1280.9 907.3 L1281.8 907.9 L1282.8 908.5 L1283.7 909.1 L1284.6 909.7 L1285.6 910.3 L1286.0 910.6" fill="none" stroke="#ff0000" stroke-width="20" stroke-linecap="round" stroke-linejoin="round"/>
<path d="M1377.0 970.9 L1378.0 971.6 L1379.0 972.3 L1379.9 972.9 L1380.9 973.6 L1381.9 974.3 L1382.9 974.9 L1383.9 975.6 L1384.8 976.3 L1385.8 977.0 L1386.8 977.6 L1387.8 978.3 L1388.8 979.0 L1389.7 979.6 L1390.7 980.3 L1391.7 981.0 L1392.7 981.7 L1393.6 982.4 L1394.6 983.0 L1395.6 983.7 L1396.6 984.4 L1397.6 985.1 L1398.5 985.7 L1399.5 986.4 L1400.5 987.1 L1401.5 987.8 L1402.5 988.5 L1403.4 989.1 L1404.4 989.8 L1405.4 990.5 L1406.4 991.2 L1407.4 991.9 L1408.3 992.5 L1409.3 993.2 L1410.3 993.9 L1411.3 994.6 L1412.3 995.3 L1413.2 996.0 L1414.2 996.6 L1415.2 997.3 L1416.2 998.0 L1417.2 998.7 L1418.1 999.4 L1419.1 1000.1 L1420.1 1000.8 L1421.1 1001.5 L1422.1 1002.1 L1423.0 1002.8 L1424.0 1003.5 L1425.0 1004.2 L1426.0 1004.9 L1426.9 1005.6 L1427.9 1006.3 L1428.9 1007.0 L1429.9 1007.7 L1430.9 1008.4 L1431.3 1008.7" fill="none" stroke="#ff0000" stroke-width="20" stroke-linecap="round" stroke-linejoin="round"/>
<path d="M1522.3 1075.3 L1523.2 1076.0 L1524.2 1076.7 L1525.1 1077.4 L1526.0 1078.1 L1527.0 1078.8 L1527.9 1079.5 L1528.8 1080.2 L1529.8 1080.9 L1530.7 1081.7 L1531.7 1082.4 L1532.6 1083.1 L1533.5 1083.8 L1534.5 1084.5 L1535.4 1085.2 L1536.3 1085.9 L1537.3 1086.7 L1538.2 1087.4 L1539.1 1088.1 L1540.1 1088.8 L1541.0 1089.5 L1541.9 1090.2 L1542.9 1091.0 L1543.8 1091.7 L1544.8 1092.4 L1545.7 1093.1 L1546.6 1093.8 L1547.6 1094.6 L1548.5 1095.3 L1549.4 1096.0 L1550.4 1096.7 L1551.3 1097.5 L1552.2 1098.2 L1553.2 1098.9 L1554.1 1099.6 L1555.0 1100.4 L1556.0 1101.1 L1556.9 1101.8 L1557.8 1102.5 L1558.8 1103.3 L1559.7 1104.0 L1560.7 1104.7 L1561.6 1105.5 L1562.5 1106.2 L1563.5 1106.9 L1564.4 1107.7 L1565.3 1108.4 L1566.3 1109.1 L1567.2 1109.9 L1568.1 1110.6 L1569.1 1111.3 L1570.0 1112.1 L1570.9 1112.8 L1571.9 1113.5 L1572.8 1114.3 L1573.8 1115.0 L1574.7 1115.7 L1575.6 1116.5 L1576.6 1117.2 L1577.5 1118.0 L1578.4 1118.7 L1579.4 1119.4 L1580.3 1120.2 L1581.2 1120.9 L1582.2 1121.7 L1583.1 1122.4 L1584.0 1123.2 L1585.0 1123.9 L1585.9 1124.7 L1586.8 1125.4 L1587.8 1126.1 L1588.7 1126.9 L1589.7 1127.6 L1590.6 1128.4 L1591.5 1129.1 L1592.5 1129.9 L1593.4 1130.6 L1594.3 1131.4 L1595.3 1132.1 L1596.2 1132.9 L1597.1 1133.6 L1598.1 1134.4 L1599.0 1135.2 L1599.9 1135.9 L1600.1 1136.0" fill="none" stroke="#ff0000" stroke-width="20" stroke-linecap="round" stroke-linejoin="round"/>
<path d="M1690.0 1211.9 L1690.9 1212.6 L1691.7 1213.4 L1692.6 1214.2 L1693.4 1214.9 L1694.3 1215.7 L1695.1 1216.4 L1696.0 1217.2 L1696.9 1218.0 L1697.7 1218.7 L1698.6 1219.5 L1699.4 1220.3 L1700.3 1221.0 L1701.2 1221.8 L1702.0 1222.6 L1702.9 1223.3 L1703.7 1224.1 L1704.6 1224.9 L1705.4 1225.6 L1706.3 1226.4 L1707.2 1227.2 L1708.0 1228.0 L1708.9 1228.7 L1709.7 1229.5 L1710.6 1230.3 L1711.4 1231.1 L1712.3 1231.8 L1713.2 1232.6 L1714.0 1233.4 L1714.9 1234.2 L1715.7 1235.0 L1716.6 1235.7 L1717.4 1236.5 L1718.3 1237.3 L1719.2 1238.1 L1720.0 1238.9 L1720.9 1239.7 L1721.7 1240.5 L1722.6 1241.2 L1723.5 1242.0 L1724.3 1242.8 L1725.2 1243.6 L1726.0 1244.4 L1726.9 1245.2 L1727.7 1246.0 L1728.6 1246.8 L1729.5 1247.6 L1730.3 1248.4 L1731.2 1249.2 L1732.0 1250.0 L1732.9 1250.8 L1733.7 1251.6 L1734.6 1252.4 L1735.5 1253.2 L1736.3 1254.0 L1737.2 1254.8 L1738.0 1255.6 L1738.9 1256.4 L1739.7 1257.2 L1740.6 1258.0 L1741.5 1258.8 L1742.3 1259.6 L1743.2 1260.4 L1743.5 1260.7" fill="none" stroke="#ff0000" stroke-width="20" stroke-linecap="round" stroke-linejoin="round"/>
<path d="M1830.0 1347.9 L1830.8 1348.7 L1831.5 1349.6 L1832.3 1350.4 L1833.1 1351.2 L1833.8 1352.1 L1834.6 1352.9 L1835.4 1353.7 L1836.2 1354.6 L1836.9 1355.4 L1837.7 1356.3 L1838.5 1357.1 L1839.2 1358.0 L1840.0 1358.8 L1840.8 1359.7 L1841.5 1360.5 L1842.3 1361.4 L1843.1 1362.2 L1843.9 1363.1 L1844.6 1363.9 L1845.4 1364.8 L1846.2 1365.7 L1846.9 1366.5 L1847.7 1367.4 L1848.5 1368.2 L1849.2 1369.1 L1850.0 1370.0 L1850.8 1370.8 L1851.5 1371.7 L1852.3 1372.6 L1853.1 1373.5 L1853.9 1374.3 L1854.6 1375.2 L1855.4 1376.1 L1856.2 1377.0 L1856.9 1377.8 L1857.7 1378.7 L1858.5 1379.6 L1859.2 1380.5 L1860.0 1381.4 L1860.8 1382.3 L1861.6 1383.1 L1862.3 1384.0 L1863.1 1384.9 L1863.9 1385.8 L1864.6 1386.7 L1865.4 1387.6 L1866.2 1388.5 L1866.9 1389.4 L1867.7 1390.3 L1868.5 1391.2 L1869.2 1392.1 L1870.0 1393.0 L1870.8 1393.9 L1871.6 1394.8 L1872.3 1395.7 L1873.1 1396.6 L1873.9 1397.6 L1874.6 1398.5 L1875.4 1399.4 L1876.2 1400.3 L1876.9 1401.2 L1877.7 1402.2 L1878.0 1402.5" fill="none" stroke="#ff0000" stroke-width="20" stroke-linecap="round" stroke-linejoin="round"/>
<path d="M1949.0 1496.9 L1949.6 1497.8 L1950.3 1498.8 L1950.9 1499.8 L1951.6 1500.8 L1952.2 1501.8 L1952.9 1502.7 L1953.5 1503.7 L1954.2 1504.7 L1954.8 1505.7 L1955.5 1506.7 L1956.1 1507.7 L1956.8 1508.7 L1957.4 1509.7 L1958.1 1510.7 L1958.7 1511.7 L1959.4 1512.7 L1960.0 1513.7 L1960.7 1514.8 L1961.3 1515.8 L1962.0 1516.8 L1962.6 1517.8 L1963.3 1518.9 L1963.9 1519.9 L1964.6 1520.9 L1965.2 1521.9 L1965.7 1522.8 L1966.3 1523.7 L1966.9 1524.7 L1967.5 1525.6 L1968.0 1526.5 L1968.6 1527.5 L1969.2 1528.4 L1969.8 1529.3 L1970.4 1530.3 L1970.9 1531.2 L1971.5 1532.2 L1972.1 1533.2 L1972.7 1534.1 L1973.2 1535.1 L1973.8 1536.0 L1974.4 1537.0 L1975.0 1538.0 L1975.5 1538.9 L1976.1 1539.9 L1976.7 1540.9 L1977.3 1541.9 L1977.9 1542.9 L1978.4 1543.9 L1979.0 1544.8 L1979.6 1545.8 L1980.2 1546.8 L1980.7 1547.8 L1981.3 1548.8 L1981.9 1549.9 L1982.5 1550.9 L1983.1 1551.9 L1983.6 1552.9 L1984.2 1553.9 L1984.8 1554.9 L1985.0 1555.3" fill="none" stroke="#ff0000" stroke-width="20" stroke-linecap="round" stroke-linejoin="round"/>
<path d="M2039.0 1676.2 L2039.4 1677.3 L2039.8 1678.5 L2040.1 1679.7 L2040.5 1680.8 L2040.9 1682.0 L2041.3 1683.2 L2041.7 1684.4 L2042.0 1685.7 L2042.4 1686.9 L2042.8 1688.1 L2043.2 1689.4 L2043.6 1690.6 L2043.9 1691.9 L2044.3 1693.2 L2044.7 1694.4 L2045.0 1695.5 L2045.4 1696.7 L2045.7 1697.9 L2046.0 1699.1 L2046.4 1700.3 L2046.7 1701.5 L2047.1 1702.8 L2047.4 1704.0 L2047.8 1705.2 L2048.1 1706.5 L2048.4 1707.8 L2048.8 1709.1 L2049.1 1710.4 L2049.5 1711.7 L2049.8 1713.0 L2050.2 1714.4 L2050.5 1715.6 L2050.8 1716.8 L2051.1 1718.0 L2051.4 1719.3 L2051.7 1720.5 L2052.0 1721.8 L2052.3 1723.1 L2052.6 1724.4 L2052.9 1725.7 L2053.2 1727.0 L2053.5 1728.3 L2053.8 1729.7 L2054.1 1731.0 L2054.4 1732.4 L2054.7 1733.8 L2055.0 1735.1 L2055.3 1736.3 L2055.5 1737.6 L2055.8 1738.9 L2056.1 1740.2 L2056.3 1741.6 L2056.6 1742.9 L2056.9 1744.3 L2057.1 1745.6 L2057.4 1747.0 L2057.7 1748.5 L2057.9 1749.9 L2058.0 1750.3" fill="none" stroke="#ff0000" stroke-width="20" stroke-linecap="round" stroke-linejoin="round"/>
</g>
<g clip-path="url(#cb)">
<circle cx="406.0" cy="2212.7" r="27.8" fill="#0000ff"/>
<circle cx="397.5" cy="2203.8" r="13.6" fill="#7070ff"/>
<circle cx="397.5" cy="2203.8" r="10.4" fill="#b4b4ff"/>
<circle cx="397.5" cy="2203.8" r="4.9" fill="#fcfcff"/>
<circle cx="490.1" cy="2238.8" r="27.8" fill="#0000ff"/>
<circle cx="481.6" cy="2229.9" r="13.6" fill="#7070ff"/>
<circle cx="481.6" cy="2229.9" r="10.4" fill="#b4b4ff"/>
<circle cx="481.6" cy="2229.9" r="4.9" fill="#fcfcff"/>
<circle cx="572.3" cy="2260.0" r="27.8" fill="#0000ff"/>
<circle cx="563.8" cy="2251.1" r="13.6" fill="#7070ff"/>
<circle cx="563.8" cy="2251.1" r="10.4" fill="#b4b4ff"/>
<circle cx="563.8" cy="2251.1" r="4.9" fill="#fcfcff"/>
<circle cx="656.6" cy="2259.6" r="27.8" fill="#0000ff"/>
<circle cx="648.1" cy="2250.7" r="13.6" fill="#7070ff"/>
<circle cx="648.1" cy="2250.7" r="10.4" fill="#b4b4ff"/>
<circle cx="648.1" cy="2250.7" r="4.9" fill="#fcfcff"/>
<circle cx="739.0" cy="2281.0" r="27.8" fill="#0000ff"/>
<circle cx="730.5" cy="2272.1" r="13.6" fill="#7070ff"/>
<circle cx="730.5" cy="2272.1" r="10.4" fill="#b4b4ff"/>
<circle cx="730.5" cy="2272.1" r="4.9" fill="#fcfcff"/>
<circle cx="822.3" cy="2324.9" r="27.8" fill="#0000ff"/>
<circle cx="813.8" cy="2316.0" r="13.6" fill="#7070ff"/>
<circle cx="813.8" cy="2316.0" r="10.4" fill="#b4b4ff"/>
<circle cx="813.8" cy="2316.0" r="4.9" fill="#fcfcff"/>
<circle cx="904.6" cy="2347.6" r="27.8" fill="#0000ff"/>
<circle cx="896.1" cy="2338.7" r="13.6" fill="#7070ff"/>
<circle cx="896.1" cy="2338.7" r="10.4" fill="#b4b4ff"/>
<circle cx="896.1" cy="2338.7" r="4.9" fill="#fcfcff"/>
<circle cx="987.8" cy="2391.7" r="27.8" fill="#0000ff"/>
<circle cx="979.3" cy="2382.8" r="13.6" fill="#7070ff"/>
<circle cx="979.3" cy="2382.8" r="10.4" fill="#b4b4ff"/>
<circle cx="979.3" cy="2382.8" r="4.9" fill="#fcfcff"/>
<circle cx="1071.3" cy="2445.4" r="27.8" fill="#0000ff"/>
<circle cx="1062.8" cy="2436.5" r="13.6" fill="#7070ff"/>
<circle cx="1062.8" cy="2436.5" r="10.4" fill="#b4b4ff"/>
<circle cx="1062.8" cy="2436.5" r="4.9" fill="#fcfcff"/>
<circle cx="1155.6" cy="2501.5" r="27.8" fill="#0000ff"/>
<circle cx="1147.1" cy="2492.6" r="13.6" fill="#7070ff"/>
<circle cx="1147.1" cy="2492.6" r="10.4" fill="#b4b4ff"/>
<circle cx="1147.1" cy="2492.6" r="4.9" fill="#fcfcff"/>
<circle cx="1236.5" cy="2568.2" r="27.8" fill="#0000ff"/>
<circle cx="1228.0" cy="2559.3" r="13.6" fill="#7070ff"/>
<circle cx="1228.0" cy="2559.3" r="10.4" fill="#b4b4ff"/>
<circle cx="1228.0" cy="2559.3" r="4.9" fill="#fcfcff"/>
<circle cx="1321.8" cy="2657.5" r="27.8" fill="#0000ff"/>
<circle cx="1313.3" cy="2648.6" r="13.6" fill="#7070ff"/>
<circle cx="1313.3" cy="2648.6" r="10.4" fill="#b4b4ff"/>
<circle cx="1313.3" cy="2648.6" r="4.9" fill="#fcfcff"/>
<circle cx="1404.3" cy="2745.5" r="27.8" fill="#0000ff"/>
<circle cx="1395.8" cy="2736.6" r="13.6" fill="#7070ff"/>
<circle cx="1395.8" cy="2736.6" r="10.4" fill="#b4b4ff"/>
<circle cx="1395.8" cy="2736.6" r="4.9" fill="#fcfcff"/>
<circle cx="1486.5" cy="2811.8" r="27.8" fill="#0000ff"/>
<circle cx="1478.0" cy="2802.9" r="13.6" fill="#7070ff"/>
<circle cx="1478.0" cy="2802.9" r="10.4" fill="#b4b4ff"/>
<circle cx="1478.0" cy="2802.9" r="4.9" fill="#fcfcff"/>
<circle cx="1570.3" cy="2855.3" r="27.8" fill="#0000ff"/>
<circle cx="1561.8" cy="2846.4" r="13.6" fill="#7070ff"/>
<circle cx="1561.8" cy="2846.4" r="10.4" fill="#b4b4ff"/>
<circle cx="1561.8" cy="2846.4" r="4.9" fill="#fcfcff"/>
<circle cx="1654.5" cy="2923.7" r="27.8" fill="#0000ff"/>
<circle cx="1646.0" cy="2914.8" r="13.6" fill="#7070ff"/>
<circle cx="1646.0" cy="2914.8" r="10.4" fill="#b4b4ff"/>
<circle cx="1646.0" cy="2914.8" r="4.9" fill="#fcfcff"/>
<circle cx="1735.3" cy="2988.8" r="27.8" fill="#0000ff"/>
<circle cx="1726.8" cy="2979.9" r="13.6" fill="#7070ff"/>
<circle cx="1726.8" cy="2979.9" r="10.4" fill="#b4b4ff"/>
<circle cx="1726.8" cy="2979.9" r="4.9" fill="#fcfcff"/>
<circle cx="1817.4" cy="3122.9" r="27.8" fill="#0000ff"/>
<circle cx="1808.9" cy="3114.0" r="13.6" fill="#7070ff"/>
<circle cx="1808.9" cy="3114.0" r="10.4" fill="#b4b4ff"/>
<circle cx="1808.9" cy="3114.0" r="4.9" fill="#fcfcff"/>
<circle cx="1899.7" cy="3234.0" r="27.8" fill="#0000ff"/>
<circle cx="1891.2" cy="3225.1" r="13.6" fill="#7070ff"/>
<circle cx="1891.2" cy="3225.1" r="10.4" fill="#b4b4ff"/>
<circle cx="1891.2" cy="3225.1" r="4.9" fill="#fcfcff"/>
<circle cx="1983.4" cy="3367.1" r="27.8" fill="#0000ff"/>
<circle cx="1974.9" cy="3358.2" r="13.6" fill="#7070ff"/>
<circle cx="1974.9" cy="3358.2" r="10.4" fill="#b4b4ff"/>
<circle cx="1974.9" cy="3358.2" r="4.9" fill="#fcfcff"/>
<circle cx="2069.6" cy="3607.0" r="27.8" fill="#0000ff"/>
<circle cx="2061.1" cy="3598.1" r="13.6" fill="#7070ff"/>
<circle cx="2061.1" cy="3598.1" r="10.4" fill="#b4b4ff"/>
<circle cx="2061.1" cy="3598.1" r="4.9" fill="#fcfcff"/>
<path d="M323.0 3315.2 L325.1 3315.2 L327.2 3315.2 L329.3 3315.2 L331.4 3315.2 L333.5 3315.2 L335.6 3315.2 L337.7 3315.2 L339.8 3315.2 L341.9 3315.2 L344.0 3315.2 L346.1 3315.2 L348.2 3315.2 L350.3 3315.2 L352.4 3315.2 L354.5 3315.2 L356.6 3315.2 L358.7 3315.2 L360.8 3315.2 L362.9 3315.2 L365.0 3315.2 L367.1 3315.2 L369.2 3315.2 L371.3 3315.2 L373.4 3315.2 L375.5 3315.2 L377.6 3315.2 L379.7 3315.2 L381.9 3315.2 L384.0 3315.2 L386.1 3315.2 L388.2 3315.2 L390.3 3315.2 L392.4 3315.2 L394.5 3315.2 L396.6 3315.2 L398.7 3315.2 L400.8 3315.2 L402.9 3315.3 L405.0 3315.3 L407.1 3315.3 L409.2 3315.3 L411.3 3315.3 L413.4 3315.3 L415.5 3315.3 L417.6 3315.3 L419.7 3315.3 L421.8 3315.3 L423.9 3315.3 L426.0 3315.3 L428.1 3315.3 L430.2 3315.3 L432.3 3315.3 L434.4 3315.3 L436.5 3315.4 L438.6 3315.4 L440.7 3315.4 L442.8 3315.4 L444.9 3315.5 L447.0 3315.5 L449.1 3315.5 L451.2 3315.6 L453.3 3315.6 L455.4 3315.6 L457.5 3315.7 L459.6 3315.7 L461.7 3315.8 L463.8 3315.9 L465.9 3315.9 L468.0 3316.0 L470.1 3316.1 L472.2 3316.1 L474.3 3316.2 L476.4 3316.3 L478.5 3316.4 L480.6 3316.5 L482.7 3316.6 L484.8 3316.7 L486.9 3316.9 L489.0 3317.0 L491.1 3317.1 L493.2 3317.3 L495.3 3317.4 L497.4 3317.5 L499.6 3317.7 L501.7 3317.9 L503.8 3318.0 L505.9 3318.2 L508.0 3318.4 L510.1 3318.6 L512.2 3318.8 L514.3 3319.0 L516.4 3319.2 L518.5 3319.4 L520.6 3319.6 L522.7 3319.9 L524.8 3320.1 L526.9 3320.3 L529.0 3320.6 L531.1 3320.8 L533.2 3321.1 L535.3 3321.4 L537.4 3321.6 L539.5 3321.9 L541.6 3322.2 L543.7 3322.5 L545.8 3322.8 L547.9 3323.1 L550.0 3323.4 L552.1 3323.8 L554.2 3324.1 L556.3 3324.4 L558.4 3324.8 L560.5 3325.1 L562.6 3325.5 L564.7 3325.8 L566.8 3326.2 L568.9 3326.6 L571.0 3326.9 L573.1 3327.3 L575.2 3327.7 L577.3 3328.1 L579.4 3328.5 L581.5 3328.9 L583.6 3329.3 L585.7 3329.7 L587.8 3330.1 L589.9 3330.6 L592.0 3331.0 L594.1 3331.4 L596.2 3331.9 L598.3 3332.3 L600.4 3332.8 L602.5 3333.2 L604.6 3333.7 L606.7 3334.1 L608.8 3334.6 L610.9 3335.1 L613.0 3335.5 L615.1 3336.0 L617.3 3336.5 L619.4 3337.0 L621.5 3337.5 L623.6 3337.9 L625.7 3338.4 L627.8 3338.9 L629.9 3339.4 L632.0 3339.9 L634.1 3340.4 L636.2 3341.0 L638.3 3341.5 L640.4 3342.0 L642.5 3342.5 L644.6 3343.0 L646.7 3343.6 L648.8 3344.1 L650.9 3344.6 L653.0 3345.1 L655.1 3345.7 L657.2 3346.2 L659.3 3346.7 L661.4 3347.3 L663.5 3347.8 L665.6 3348.4 L667.7 3348.9 L669.8 3349.5 L671.9 3350.0 L674.0 3350.6 L676.1 3351.1 L678.2 3351.7 L680.3 3352.2 L682.4 3352.8 L684.5 3353.3 L686.6 3353.9 L688.7 3354.5 L690.8 3355.0 L692.9 3355.6 L695.0 3356.1 L697.1 3356.7 L699.2 3357.3 L701.3 3357.8 L703.4 3358.4 L705.5 3359.0 L707.6 3359.5 L709.7 3360.1 L711.8 3360.7 L713.9 3361.3 L716.0 3361.8 L718.1 3362.4 L720.2 3363.0 L722.3 3363.5 L724.4 3364.1 L726.5 3364.7 L728.6 3365.3 L730.7 3365.8 L732.8 3366.4 L735.0 3367.0 L737.1 3367.6 L739.2 3368.1 L741.3 3368.7 L743.4 3369.3 L745.5 3369.9 L747.6 3370.4 L749.7 3371.0 L751.8 3371.6 L753.9 3372.2 L756.0 3372.8 L758.1 3373.3 L760.2 3373.9 L762.3 3374.5 L764.4 3375.1 L766.5 3375.6 L768.6 3376.2 L770.7 3376.8 L772.8 3377.3 L774.9 3377.9 L777.0 3378.5 L779.1 3379.1 L781.2 3379.6 L783.3 3380.2 L785.4 3380.8 L787.5 3381.4 L789.6 3381.9 L791.7 3382.5 L793.8 3383.1 L795.9 3383.6 L798.0 3384.2 L800.1 3384.8 L802.2 3385.3 L804.3 3385.9 L806.4 3386.5 L808.5 3387.1 L810.6 3387.6 L812.7 3388.2 L814.8 3388.8 L816.9 3389.3 L819.0 3389.9 L821.1 3390.4 L823.2 3391.0 L825.3 3391.6 L827.4 3392.1 L829.5 3392.7 L831.6 3393.3 L833.7 3393.8 L835.8 3394.4 L837.9 3394.9 L840.0 3395.5 L842.1 3396.1 L844.2 3396.6 L846.3 3397.2 L848.4 3397.7 L850.6 3398.3 L852.7 3398.8 L854.8 3399.4 L856.9 3399.9 L859.0 3400.5 L861.1 3401.1 L863.2 3401.6 L865.3 3402.2 L867.4 3402.7 L869.5 3403.3 L871.6 3403.8 L873.7 3404.4 L875.8 3404.9 L877.9 3405.5 L880.0 3406.0 L882.1 3406.6 L884.2 3407.1 L886.3 3407.7 L888.4 3408.2 L890.5 3408.8 L892.6 3409.3 L894.7 3409.8 L896.8 3410.4 L898.9 3410.9 L901.0 3411.5 L903.1 3412.0 L905.2 3412.6 L907.3 3413.1 L909.4 3413.7 L911.5 3414.2 L913.6 3414.7 L915.7 3415.3 L917.8 3415.8 L919.9 3416.4 L922.0 3416.9 L924.1 3417.5 L926.2 3418.0 L928.3 3418.5 L930.4 3419.1 L932.5 3419.6 L934.6 3420.2 L936.7 3420.7 L938.8 3421.2 L940.9 3421.8 L943.0 3422.3 L945.1 3422.9 L947.2 3423.4 L949.3 3423.9 L951.4 3424.5 L953.5 3425.0 L955.6 3425.6 L957.7 3426.1 L959.8 3426.6 L961.9 3427.2 L964.0 3427.7 L966.1 3428.3 L968.3 3428.8 L970.4 3429.3 L972.5 3429.9 L974.6 3430.4 L976.7 3431.0 L978.8 3431.5 L980.9 3432.0 L983.0 3432.6 L985.1 3433.1 L987.2 3433.7 L989.3 3434.2 L991.4 3434.8 L993.5 3435.3 L995.6 3435.9 L997.7 3436.4 L999.8 3436.9 L1001.9 3437.5 L1004.0 3438.0 L1006.1 3438.6 L1008.2 3439.1 L1010.3 3439.7 L1012.4 3440.2 L1014.5 3440.8 L1016.6 3441.3 L1018.7 3441.9 L1020.8 3442.4 L1022.9 3443.0 L1025.0 3443.6 L1027.1 3444.1 L1029.2 3444.7 L1031.3 3445.2 L1033.4 3445.8 L1035.5 3446.3 L1037.6 3446.9 L1039.7 3447.5 L1041.8 3448.0 L1043.9 3448.6 L1046.0 3449.2 L1048.1 3449.7 L1050.2 3450.3 L1052.3 3450.9 L1054.4 3451.4 L1056.5 3452.0 L1058.6 3452.6 L1060.7 3453.2 L1062.8 3453.8 L1064.9 3454.3 L1067.0 3454.9 L1069.1 3455.5 L1071.2 3456.1 L1073.3 3456.7 L1075.4 3457.3 L1077.5 3457.9 L1079.6 3458.4 L1081.7 3459.0 L1083.8 3459.6 L1086.0 3460.2 L1088.1 3460.8 L1090.2 3461.4 L1092.3 3462.1 L1094.4 3462.7 L1096.5 3463.3 L1098.6 3463.9 L1100.7 3464.5 L1102.8 3465.1 L1104.9 3465.7 L1107.0 3466.4 L1109.1 3467.0 L1111.2 3467.6 L1113.3 3468.3 L1115.4 3468.9 L1117.5 3469.5 L1119.6 3470.2 L1121.7 3470.8 L1123.8 3471.5 L1125.9 3472.1 L1128.0 3472.8 L1130.1 3473.4 L1132.2 3474.1 L1134.3 3474.8 L1136.4 3475.4 L1138.5 3476.1 L1140.6 3476.8 L1142.7 3477.5 L1144.8 3478.2 L1146.9 3478.9 L1149.0 3479.5 L1151.1 3480.2 L1153.2 3480.9 L1155.3 3481.7 L1157.4 3482.4 L1159.5 3483.1 L1161.6 3483.8 L1163.7 3484.5 L1165.8 3485.3 L1167.9 3486.0 L1170.0 3486.7 L1172.1 3487.5 L1174.2 3488.2 L1176.3 3489.0 L1178.4 3489.7 L1180.5 3490.5 L1182.6 3491.3 L1184.7 3492.1 L1186.8 3492.9 L1188.9 3493.6 L1191.0 3494.4 L1193.1 3495.2 L1195.2 3496.1 L1197.3 3496.9 L1199.4 3497.7 L1201.5 3498.5 L1203.7 3499.4 L1205.8 3500.2 L1207.9 3501.1 L1210.0 3501.9 L1212.1 3502.8 L1214.2 3503.7 L1216.3 3504.5 L1218.4 3505.4 L1220.5 3506.3 L1222.6 3507.2 L1224.7 3508.1 L1226.8 3509.1 L1228.9 3510.0 L1231.0 3510.9 L1233.1 3511.9 L1235.2 3512.8 L1237.3 3513.8 L1239.4 3514.8 L1241.5 3515.8 L1243.6 3516.8 L1245.7 3517.8 L1247.8 3518.8 L1249.9 3519.8 L1252.0 3520.9 L1254.1 3521.9 L1256.2 3523.0 L1258.3 3524.1 L1260.4 3525.1 L1262.5 3526.2 L1264.6 3527.3 L1266.7 3528.5 L1268.8 3529.6 L1270.9 3530.8 L1273.0 3531.9 L1275.1 3533.1 L1277.2 3534.3 L1279.3 3535.5 L1281.4 3536.7 L1283.5 3537.9 L1285.6 3539.2 L1287.7 3540.4 L1289.8 3541.7 L1291.9 3543.0 L1294.0 3544.3 L1296.1 3545.6 L1298.2 3547.0 L1300.3 3548.3 L1302.4 3549.7 L1304.5 3551.1 L1306.6 3552.5 L1308.7 3554.0 L1310.8 3555.4 L1312.9 3556.9 L1314.1 3557.7 L1315.0 3558.4 L1317.1 3559.9 L1319.3 3561.4 L1321.4 3563.0 L1323.5 3564.5 L1325.6 3566.1 L1327.7 3567.7 L1329.8 3569.4 L1331.8 3571.0 L1334.0 3572.7 L1336.1 3574.5 L1338.2 3576.2 L1340.3 3578.0 L1342.4 3579.8 L1344.1 3581.3 L1346.6 3583.4 L1348.7 3585.3 L1350.8 3587.2 L1352.6 3588.9 L1355.0 3591.1 L1355.8 3591.9 L1357.1 3593.1 L1358.5 3594.5 L1360.7 3596.6 L1362.6 3598.5 L1363.4 3599.3 L1365.4 3601.3 L1366.5 3602.4 L1367.4 3603.3 L1368.1 3604.1 L1369.2 3605.3 L1370.0 3606.1 L1370.8 3606.9 L1371.5 3607.7 L1371.8 3608.0" fill="none" stroke="#ff00ff" stroke-width="21.5" stroke-linecap="square" stroke-linejoin="round"/>
<path d="M323.0 2229.6 L326.5 2229.6 L330.0 2229.6 L333.5 2229.6 L337.0 2229.6 L340.5 2229.6 L344.0 2229.6 L347.5 2229.6 L351.0 2229.6 L354.5 2229.6 L358.0 2229.6 L361.6 2229.6 L365.1 2229.6 L368.6 2229.6 L372.1 2229.6 L375.6 2229.6 L379.1 2229.6 L382.6 2229.6 L386.1 2229.6 L389.6 2229.6 L393.1 2229.6 L396.6 2229.6 L400.1 2229.6 L403.6 2229.6 L407.1 2229.7 L410.6 2229.7 L414.1 2229.7 L417.6 2229.7 L421.1 2229.7 L424.6 2229.7 L428.1 2229.7 L431.6 2229.7 L435.1 2229.8 L438.7 2229.8 L442.2 2229.8 L445.7 2229.9 L449.2 2229.9 L452.7 2230.0 L456.2 2230.1 L459.7 2230.1 L463.2 2230.2 L466.7 2230.3 L470.2 2230.5 L473.7 2230.6 L477.2 2230.8 L480.7 2230.9 L484.2 2231.1 L487.7 2231.3 L491.2 2231.5 L494.7 2231.8 L498.2 2232.0 L501.7 2232.3 L505.2 2232.6 L508.7 2232.9 L512.2 2233.2 L515.8 2233.5 L519.3 2233.9 L522.8 2234.3 L526.3 2234.7 L529.8 2235.1 L533.3 2235.5 L536.8 2236.0 L540.3 2236.5 L543.8 2237.0 L547.3 2237.5 L550.8 2238.0 L554.3 2238.5 L557.8 2239.1 L561.3 2239.7 L564.8 2240.3 L568.3 2240.9 L571.8 2241.6 L575.3 2242.2 L578.8 2242.9 L582.3 2243.6 L585.8 2244.3 L589.3 2245.0 L592.9 2245.7 L596.4 2246.5 L599.9 2247.2 L603.4 2248.0 L606.9 2248.8 L610.4 2249.6 L613.9 2250.4 L617.4 2251.3 L620.9 2252.1 L624.4 2253.0 L627.9 2253.9 L631.4 2254.7 L634.9 2255.6 L638.4 2256.5 L641.9 2257.5 L645.4 2258.4 L648.9 2259.3 L652.4 2260.3 L655.9 2261.3 L659.4 2262.2 L662.9 2263.2 L666.4 2264.2 L670.0 2265.2 L673.5 2266.2 L677.0 2267.3 L680.5 2268.3 L684.0 2269.4 L687.5 2270.4 L691.0 2271.5 L694.5 2272.6 L698.0 2273.7 L701.5 2274.8 L705.0 2275.9 L708.5 2277.0 L712.0 2278.1 L715.5 2279.2 L719.0 2280.4 L722.5 2281.5 L726.0 2282.7 L729.5 2283.9 L733.0 2285.0 L736.5 2286.2 L740.0 2287.4 L743.6 2288.6 L747.1 2289.8 L750.6 2291.1 L754.1 2292.3 L757.6 2293.5 L761.1 2294.8 L764.6 2296.0 L768.1 2297.3 L771.6 2298.6 L775.1 2299.9 L778.6 2301.1 L782.1 2302.4 L785.6 2303.8 L789.1 2305.1 L792.6 2306.4 L796.1 2307.7 L799.6 2309.1 L803.1 2310.4 L806.6 2311.8 L810.1 2313.2 L813.6 2314.5 L817.1 2315.9 L820.7 2317.3 L824.2 2318.7 L827.7 2320.2 L831.2 2321.6 L834.7 2323.0 L838.2 2324.5 L841.7 2325.9 L845.2 2327.4 L848.7 2328.8 L852.2 2330.3 L855.7 2331.8 L859.2 2333.3 L862.7 2334.8 L866.2 2336.3 L869.7 2337.9 L873.2 2339.4 L876.7 2340.9 L880.2 2342.5 L883.7 2344.1 L887.2 2345.6 L890.7 2347.2 L894.2 2348.8 L897.8 2350.4 L901.3 2352.0 L904.8 2353.7 L908.3 2355.3 L911.8 2356.9 L915.3 2358.6 L918.8 2360.3 L922.3 2361.9 L925.8 2363.6 L929.3 2365.3 L932.8 2367.0 L936.3 2368.7 L939.8 2370.4 L943.3 2372.2 L946.8 2373.9 L950.3 2375.7 L953.8 2377.5 L957.3 2379.2 L960.8 2381.0 L964.3 2382.8 L967.8 2384.6 L971.3 2386.4 L974.9 2388.3 L978.4 2390.1 L981.9 2392.0 L985.4 2393.8 L988.9 2395.7 L992.4 2397.6 L995.9 2399.5 L999.4 2401.4 L1002.9 2403.3 L1006.4 2405.3 L1009.9 2407.2 L1013.4 2409.2 L1016.9 2411.2 L1020.4 2413.1 L1023.9 2415.1 L1027.4 2417.1 L1030.9 2419.2 L1034.4 2421.2 L1037.9 2423.2 L1041.4 2425.3 L1044.9 2427.4 L1048.4 2429.5 L1052.0 2431.6 L1055.5 2433.7 L1059.0 2435.8 L1062.5 2437.9 L1066.0 2440.1 L1069.5 2442.3 L1073.0 2444.4 L1076.5 2446.6 L1080.0 2448.9 L1083.5 2451.1 L1087.0 2453.3 L1090.5 2455.6 L1094.0 2457.9 L1097.5 2460.1 L1101.0 2462.5 L1104.5 2464.8 L1108.0 2467.1 L1111.5 2469.5 L1115.0 2471.8 L1118.5 2474.2 L1122.0 2476.6 L1125.6 2479.1 L1129.1 2481.5 L1132.6 2484.0 L1136.1 2486.5 L1139.6 2489.0 L1143.1 2491.5 L1146.6 2494.0 L1150.1 2496.6 L1153.6 2499.1 L1157.1 2501.7 L1160.6 2504.4 L1164.1 2507.0 L1167.6 2509.7 L1171.1 2512.4 L1174.6 2515.1 L1178.1 2517.8 L1181.6 2520.6 L1185.1 2523.4 L1188.6 2526.2 L1192.1 2529.0 L1195.6 2531.9 L1199.1 2534.7 L1202.7 2537.7 L1206.2 2540.6 L1209.7 2543.6 L1213.2 2546.6 L1216.7 2549.6 L1220.2 2552.7 L1223.7 2555.8 L1227.2 2558.9 L1230.7 2562.0 L1234.2 2565.2 L1237.7 2568.4 L1241.2 2571.7 L1244.7 2575.0 L1248.2 2578.3 L1251.7 2581.7 L1255.2 2585.1 L1258.7 2588.6 L1262.2 2592.1 L1265.7 2595.6 L1269.2 2599.2 L1272.7 2602.8 L1276.2 2606.4 L1279.8 2610.2 L1283.3 2613.9 L1286.8 2617.7 L1288.6 2619.7 L1290.3 2621.6 L1293.8 2625.5 L1297.3 2629.5 L1300.8 2633.5 L1302.5 2635.5 L1304.3 2637.6 L1307.8 2641.7 L1311.3 2645.9 L1314.1 2649.4 L1314.8 2650.2 L1318.3 2654.5 L1321.8 2658.9 L1323.8 2661.5 L1325.3 2663.4 L1328.8 2668.0 L1331.8 2671.9 L1335.8 2677.3 L1338.5 2680.9 L1339.3 2682.0 L1342.8 2686.9 L1344.1 2688.7 L1346.3 2691.8 L1348.7 2695.3 L1349.8 2696.9 L1352.6 2700.9 L1353.3 2702.0 L1355.8 2705.6 L1356.9 2707.2 L1358.5 2709.7 L1360.4 2712.5 L1362.6 2715.9 L1363.9 2717.9 L1365.4 2720.3 L1366.5 2722.0 L1367.4 2723.4 L1368.1 2724.6 L1368.7 2725.6 L1369.7 2727.1 L1370.3 2728.1 L1370.9 2729.2 L1371.6 2730.1 L1372.4 2730.9 L1373.6 2731.5 L1374.9 2732.2 L1376.2 2733.0 L1377.9 2733.9 L1379.5 2734.8 L1381.0 2735.7 L1382.9 2736.7 L1384.9 2737.9 L1387.8 2739.5 L1391.0 2741.4 L1394.8 2743.6 L1398.9 2745.9 L1402.4 2747.9 L1405.1 2749.5 L1409.4 2752.0 L1411.8 2753.4 L1412.9 2754.1 L1416.4 2756.2 L1419.8 2758.2 L1423.4 2760.4 L1426.9 2762.5 L1429.5 2764.0 L1430.4 2764.6 L1434.0 2766.7 L1437.5 2768.8 L1441.0 2771.0 L1444.5 2773.1 L1448.0 2775.3 L1451.5 2777.5 L1455.0 2779.7 L1458.5 2781.9 L1462.0 2784.1 L1465.5 2786.3 L1469.0 2788.6 L1472.5 2790.8 L1476.0 2793.1 L1479.5 2795.4 L1483.0 2797.7 L1486.5 2800.0 L1490.0 2802.3 L1493.5 2804.6 L1497.0 2806.9 L1500.5 2809.3 L1504.0 2811.6 L1507.6 2814.0 L1511.1 2816.4 L1514.6 2818.8 L1518.1 2821.2 L1521.6 2823.7 L1525.1 2826.1 L1528.6 2828.6 L1532.1 2831.0 L1535.6 2833.5 L1539.1 2836.0 L1542.6 2838.6 L1546.1 2841.1 L1549.6 2843.6 L1553.1 2846.2 L1556.6 2848.8 L1560.1 2851.4 L1563.6 2854.0 L1567.1 2856.6 L1570.6 2859.3 L1574.1 2861.9 L1577.6 2864.6 L1581.1 2867.3 L1584.7 2870.0 L1588.2 2872.7 L1591.7 2875.5 L1595.2 2878.2 L1598.7 2881.0 L1602.2 2883.8 L1605.7 2886.6 L1609.2 2889.4 L1612.7 2892.3 L1616.2 2895.2 L1619.7 2898.1 L1623.2 2901.0 L1626.7 2903.9 L1630.2 2906.8 L1633.7 2909.8 L1637.2 2912.8 L1640.7 2915.8 L1644.2 2918.8 L1647.7 2921.9 L1651.2 2925.0 L1654.7 2928.1 L1658.2 2931.2 L1661.8 2934.3 L1665.3 2937.5 L1668.8 2940.7 L1672.3 2943.9 L1675.8 2947.1 L1679.3 2950.4 L1682.8 2953.7 L1686.3 2957.0 L1689.8 2960.3 L1693.3 2963.6 L1696.8 2967.0 L1700.3 2970.4 L1703.8 2973.9 L1707.3 2977.3 L1710.8 2980.8 L1714.3 2984.3 L1717.8 2987.9 L1721.3 2991.4 L1724.8 2995.0 L1728.3 2998.7 L1731.8 3002.3 L1735.3 3006.0 L1738.9 3009.7 L1742.4 3013.5 L1745.9 3017.3 L1749.4 3021.1 L1752.9 3024.9 L1756.4 3028.8 L1759.9 3032.7 L1763.4 3036.7 L1766.9 3040.6 L1770.4 3044.6 L1773.9 3048.7 L1777.4 3052.8 L1780.9 3056.9 L1784.4 3061.0 L1787.9 3065.2 L1791.4 3069.5 L1794.9 3073.7 L1798.4 3078.0 L1801.9 3082.4 L1805.4 3086.8 L1808.9 3091.2 L1812.4 3095.7 L1816.0 3100.2 L1819.5 3104.7 L1823.0 3109.3 L1826.5 3114.0 L1830.0 3118.6 L1833.5 3123.4 L1837.0 3128.1 L1840.5 3133.0 L1844.0 3137.8 L1847.5 3142.8 L1851.0 3147.7 L1854.5 3152.7 L1858.0 3157.8 L1861.5 3162.9 L1865.0 3168.1 L1868.5 3173.3 L1872.0 3178.6 L1875.5 3183.9 L1879.0 3189.3 L1882.5 3194.8 L1886.0 3200.3 L1889.6 3205.8 L1893.1 3211.4 L1896.6 3217.1 L1900.1 3222.9 L1903.6 3228.7 L1907.1 3234.5 L1910.6 3240.5 L1914.1 3246.5 L1917.6 3252.5 L1921.1 3258.7 L1924.6 3264.9 L1928.1 3271.1 L1931.6 3277.5 L1935.1 3283.9 L1938.6 3290.4 L1942.1 3296.9 L1945.6 3303.6 L1949.1 3310.3 L1952.6 3317.1 L1956.1 3324.0 L1959.6 3330.9 L1963.1 3338.0 L1966.7 3345.1 L1970.2 3352.3 L1973.7 3359.6 L1977.2 3367.0 L1980.7 3374.5 L1984.2 3382.1 L1987.7 3389.8 L1988.6 3391.7 L1991.2 3397.6 L1994.7 3405.4 L1998.2 3413.4 L2001.7 3421.5 L2002.5 3423.4 L2005.2 3429.7 L2008.7 3438.0 L2012.2 3446.4 L2014.1 3451.0 L2015.7 3454.9 L2019.2 3463.5 L2022.7 3472.2 L2023.8 3474.9 L2026.2 3481.1 L2029.7 3490.0 L2031.8 3495.5 L2033.2 3499.1 L2036.7 3508.4 L2038.5 3513.1 L2040.2 3517.7 L2043.8 3527.2 L2047.3 3536.8 L2048.7 3540.9 L2050.8 3546.5 L2052.6 3551.7 L2054.3 3556.4 L2055.8 3560.8 L2057.8 3566.4 L2058.5 3568.5 L2060.7 3575.0 L2061.3 3576.6 L2062.6 3580.4 L2064.1 3585.0 L2064.8 3586.9 L2065.4 3588.8 L2066.5 3592.0 L2067.4 3594.6 L2068.1 3596.9 L2068.7 3598.7 L2069.2 3600.3 L2069.7 3601.5 L2070.3 3603.5 L2070.8 3604.9 L2071.2 3606.2 L2071.6 3607.4 L2071.8 3608.0" fill="none" stroke="#ff0000" stroke-width="21.5" stroke-linecap="square" stroke-linejoin="round"/>
<path d="M323.1 2522.4 L324.6 2522.4 L326.2 2522.4 L327.8 2522.4 L329.4 2522.4 L331.0 2522.4 L332.5 2522.4 L334.1 2522.4 L335.7 2522.4 L337.3 2522.4 L338.9 2522.4 L340.4 2522.4 L342.0 2522.4 L343.6 2522.4 L345.2 2522.4 L346.8 2522.4 L348.3 2522.4 L349.9 2522.4 L351.5 2522.4 L353.1 2522.4 L354.7 2522.4 L356.2 2522.4 L357.8 2522.4 L359.4 2522.4 L361.0 2522.4 L362.6 2522.4 L364.1 2522.4 L364.6 2522.4" fill="none" stroke="#ffff00" stroke-width="16.5" stroke-linecap="round" stroke-linejoin="round"/>
<path d="M435.2 2522.4 L436.8 2522.4 L438.3 2522.4 L439.8 2522.4 L441.3 2522.4 L442.8 2522.4 L444.3 2522.4 L445.8 2522.4 L447.3 2522.4 L448.8 2522.4 L450.3 2522.4 L451.8 2522.4 L453.3 2522.4 L454.8 2522.4 L456.3 2522.4 L457.8 2522.4 L459.3 2522.4 L460.8 2522.4 L462.3 2522.4 L463.8 2522.4 L465.3 2522.4 L466.8 2522.4 L468.3 2522.4 L469.8 2522.4 L471.4 2522.4 L472.9 2522.4 L474.4 2522.4 L475.9 2522.4 L476.9 2522.4" fill="none" stroke="#ffff00" stroke-width="16.5" stroke-linecap="round" stroke-linejoin="round"/>
<path d="M547.0 2522.4 L548.6 2522.4 L550.1 2522.4 L551.6 2522.4 L553.1 2522.4 L554.6 2522.4 L556.1 2522.4 L557.6 2522.4 L559.1 2522.4 L560.6 2522.4 L562.1 2522.4 L563.6 2522.5 L565.1 2522.5 L566.6 2522.5 L568.1 2522.5 L569.6 2522.5 L571.1 2522.5 L572.6 2522.5 L574.1 2522.5 L575.6 2522.5 L577.1 2522.5 L578.6 2522.5 L580.1 2522.5 L581.6 2522.5 L583.2 2522.5 L584.7 2522.5 L586.2 2522.5 L587.7 2522.5 L588.8 2522.5" fill="none" stroke="#ffff00" stroke-width="16.5" stroke-linecap="round" stroke-linejoin="round"/>
<path d="M658.8 2523.4 L660.2 2523.5 L661.7 2523.5 L663.2 2523.5 L664.7 2523.6 L666.2 2523.6 L667.7 2523.7 L669.2 2523.7 L670.7 2523.7 L672.1 2523.8 L673.6 2523.8 L675.1 2523.9 L676.6 2523.9 L678.1 2524.0 L679.6 2524.0 L681.1 2524.1 L682.6 2524.1 L684.1 2524.2 L685.5 2524.2 L687.0 2524.3 L688.5 2524.3 L690.0 2524.4 L691.5 2524.4 L693.0 2524.5 L694.5 2524.6 L696.0 2524.6 L697.5 2524.7 L697.9 2524.7" fill="none" stroke="#ffff00" stroke-width="16.5" stroke-linecap="round" stroke-linejoin="round"/>
<path d="M757.0 2528.3 L758.4 2528.4 L759.8 2528.5 L761.2 2528.6 L762.6 2528.8 L764.0 2528.9 L765.5 2529.0 L766.9 2529.1 L768.3 2529.2 L769.7 2529.4 L771.1 2529.5 L772.6 2529.6 L774.0 2529.8 L775.4 2529.9 L776.8 2530.0 L778.2 2530.2 L779.7 2530.3 L781.1 2530.5 L782.5 2530.6 L783.9 2530.7 L785.3 2530.9 L786.7 2531.0 L788.2 2531.2 L789.6 2531.3 L791.0 2531.5 L792.3 2531.6" fill="none" stroke="#ffff00" stroke-width="16.5" stroke-linecap="round" stroke-linejoin="round"/>
<path d="M846.2 2538.7 L847.6 2538.9 L849.0 2539.1 L850.4 2539.3 L851.7 2539.5 L853.1 2539.8 L854.5 2540.0 L855.8 2540.2 L857.1 2540.4 L858.4 2540.6 L859.7 2540.8 L860.9 2541.0 L862.2 2541.3 L863.5 2541.5 L864.8 2541.7 L866.1 2541.9 L867.4 2542.1 L868.7 2542.4 L870.0 2542.6 L871.3 2542.8 L872.6 2543.0 L873.9 2543.3 L875.2 2543.5 L876.5 2543.7 L877.7 2544.0 L879.0 2544.2 L880.3 2544.4 L881.6 2544.7 L882.9 2544.9 L884.2 2545.2 L885.5 2545.4 L886.5 2545.6" fill="none" stroke="#ffff00" stroke-width="16.5" stroke-linecap="round" stroke-linejoin="round"/>
<path d="M937.5 2556.4 L938.7 2556.7 L940.0 2557.0 L941.2 2557.3 L942.5 2557.6 L943.8 2557.9 L945.0 2558.2 L946.3 2558.5 L947.5 2558.8 L948.8 2559.1 L950.1 2559.4 L951.3 2559.7 L952.6 2560.1 L953.8 2560.4 L955.1 2560.7 L956.4 2561.0 L957.6 2561.3 L958.9 2561.6 L960.1 2562.0 L961.4 2562.3 L962.7 2562.6 L963.9 2562.9 L965.0 2563.2 L966.2 2563.5 L967.4 2563.8 L968.6 2564.1 L969.8 2564.5 L970.5 2564.6" fill="none" stroke="#ffff00" stroke-width="16.5" stroke-linecap="round" stroke-linejoin="round"/>
<path d="M1026.8 2580.7 L1027.9 2581.1 L1029.0 2581.5 L1030.2 2581.8 L1031.3 2582.2 L1032.5 2582.5 L1033.6 2582.9 L1034.8 2583.2 L1035.9 2583.6 L1037.1 2584.0 L1038.2 2584.3 L1039.4 2584.7 L1040.5 2585.1 L1041.7 2585.4 L1042.8 2585.8 L1044.0 2586.2 L1045.1 2586.5 L1046.3 2586.9 L1047.4 2587.3 L1048.5 2587.7 L1049.7 2588.0 L1050.8 2588.4 L1052.0 2588.8 L1053.1 2589.2 L1054.3 2589.6 L1055.4 2589.9 L1056.6 2590.3 L1057.7 2590.7 L1058.5 2591.0" fill="none" stroke="#ffff00" stroke-width="16.5" stroke-linecap="round" stroke-linejoin="round"/>
<path d="M1114.5 2610.8 L1115.6 2611.3 L1116.7 2611.7 L1117.9 2612.1 L1119.0 2612.6 L1120.2 2613.0 L1121.3 2613.4 L1122.5 2613.9 L1123.6 2614.3 L1124.6 2614.7 L1125.7 2615.1 L1126.8 2615.5 L1127.9 2615.9 L1129.0 2616.4 L1130.1 2616.8 L1131.2 2617.2 L1132.2 2617.6 L1133.3 2618.0 L1134.4 2618.5 L1135.5 2618.9 L1136.6 2619.3 L1137.7 2619.7 L1138.8 2620.2 L1139.8 2620.6 L1140.9 2621.0 L1142.0 2621.5 L1143.1 2621.9 L1144.2 2622.3 L1144.5 2622.5" fill="none" stroke="#ffff00" stroke-width="16.5" stroke-linecap="round" stroke-linejoin="round"/>
<path d="M1196.5 2644.0 L1197.5 2644.5 L1198.6 2644.9 L1199.6 2645.4 L1200.7 2645.8 L1201.8 2646.3 L1202.8 2646.8 L1203.9 2647.2 L1204.9 2647.7 L1206.0 2648.2 L1207.1 2648.6 L1208.1 2649.1 L1209.2 2649.6 L1210.2 2650.0 L1211.3 2650.5 L1212.4 2651.0 L1213.4 2651.5 L1214.5 2651.9 L1215.6 2652.4 L1216.6 2652.9 L1217.7 2653.3 L1218.7 2653.8 L1219.8 2654.3 L1220.9 2654.8 L1221.9 2655.3 L1223.0 2655.7 L1224.0 2656.2 L1225.1 2656.7 L1226.2 2657.2 L1227.2 2657.7 L1228.3 2658.1 L1229.4 2658.6 L1229.5 2658.7" fill="none" stroke="#ffff00" stroke-width="16.5" stroke-linecap="round" stroke-linejoin="round"/>
<path d="M1280.7 2682.9 L1281.7 2683.4 L1282.8 2683.9 L1283.9 2684.5 L1284.9 2685.0 L1286.0 2685.5 L1287.0 2686.0 L1288.0 2686.5 L1289.0 2687.0 L1290.0 2687.5 L1291.0 2688.0 L1292.0 2688.5 L1293.0 2689.0 L1294.0 2689.5 L1295.0 2690.0 L1296.0 2690.5 L1297.0 2691.0 L1298.1 2691.5 L1299.1 2692.0 L1300.1 2692.5 L1301.1 2693.0 L1302.1 2693.5 L1303.1 2694.0 L1304.1 2694.6 L1305.1 2695.1 L1306.1 2695.6 L1307.1 2696.1 L1308.1 2696.6 L1309.1 2697.1 L1310.1 2697.6 L1311.1 2698.1 L1312.1 2698.6 L1313.1 2699.2 L1314.0 2699.6" fill="none" stroke="#ffff00" stroke-width="16.5" stroke-linecap="round" stroke-linejoin="round"/>
<path d="M1365.0 2726.7 L1366.0 2727.3 L1367.0 2727.9 L1368.0 2728.4 L1369.0 2729.0 L1370.0 2729.5 L1371.0 2730.1 L1372.1 2730.7 L1373.1 2731.2 L1374.1 2731.8 L1375.1 2732.4 L1376.1 2732.9 L1377.1 2733.5 L1378.1 2734.1 L1379.2 2734.7 L1380.2 2735.2 L1381.2 2735.8 L1382.2 2736.4 L1383.2 2736.9 L1384.2 2737.5 L1385.3 2738.1 L1386.3 2738.7 L1387.3 2739.2 L1388.3 2739.8 L1389.3 2740.4 L1390.2 2740.9 L1391.2 2741.5 L1392.1 2742.0 L1393.1 2742.6 L1394.0 2743.1 L1394.8 2743.5" fill="none" stroke="#ffff00" stroke-width="16.5" stroke-linecap="round" stroke-linejoin="round"/>
<path d="M1448.5 2775.7 L1449.5 2776.3 L1450.5 2776.9 L1451.5 2777.5 L1452.4 2778.1 L1453.4 2778.7 L1454.4 2779.3 L1455.3 2779.9 L1456.3 2780.5 L1457.3 2781.1 L1458.2 2781.7 L1459.2 2782.3 L1460.2 2783.0 L1461.1 2783.6 L1462.1 2784.2 L1463.1 2784.8 L1464.0 2785.4 L1465.0 2786.0 L1466.0 2786.6 L1466.9 2787.3 L1467.9 2787.9 L1468.9 2788.5 L1469.8 2789.1 L1470.8 2789.7 L1471.8 2790.4 L1472.7 2791.0 L1473.7 2791.6 L1474.7 2792.2 L1475.7 2792.9 L1476.6 2793.5 L1477.6 2794.1 L1478.6 2794.7 L1479.5 2795.4 L1480.5 2796.0 L1480.8 2796.2" fill="none" stroke="#ffff00" stroke-width="16.5" stroke-linecap="round" stroke-linejoin="round"/>
<path d="M1533.0 2831.7 L1533.9 2832.3 L1534.8 2833.0 L1535.7 2833.6 L1536.6 2834.3 L1537.6 2834.9 L1538.5 2835.6 L1539.4 2836.3 L1540.3 2836.9 L1541.2 2837.6 L1542.2 2838.3 L1543.1 2838.9 L1544.0 2839.6 L1544.9 2840.2 L1545.9 2840.9 L1546.8 2841.6 L1547.7 2842.3 L1548.6 2842.9 L1549.5 2843.6 L1550.5 2844.3 L1551.4 2844.9 L1552.3 2845.6 L1553.2 2846.3 L1554.2 2847.0 L1555.1 2847.6 L1556.0 2848.3 L1556.9 2849.0 L1557.8 2849.7 L1558.8 2850.4 L1559.7 2851.1 L1560.6 2851.7 L1561.5 2852.4 L1562.4 2853.1 L1563.4 2853.8 L1564.3 2854.5 L1565.2 2855.2 L1566.1 2855.9 L1567.1 2856.6 L1568.0 2857.3 L1568.9 2857.9 L1569.8 2858.6 L1570.7 2859.3 L1571.7 2860.0 L1572.6 2860.7 L1573.5 2861.4 L1574.4 2862.1 L1575.4 2862.8 L1576.3 2863.5 L1577.2 2864.2 L1578.1 2865.0 L1579.0 2865.6" fill="none" stroke="#ffff00" stroke-width="16.5" stroke-linecap="round" stroke-linejoin="round"/>
<path d="M1629.3 2906.1 L1630.2 2906.8 L1631.0 2907.5 L1631.8 2908.2 L1632.6 2908.9 L1633.4 2909.6 L1634.3 2910.3 L1635.1 2911.0 L1635.9 2911.7 L1636.7 2912.4 L1637.5 2913.1 L1638.3 2913.8 L1639.2 2914.5 L1640.0 2915.2 L1640.8 2915.9 L1641.6 2916.6 L1642.4 2917.3 L1643.3 2918.0 L1644.1 2918.7 L1644.9 2919.4 L1645.7 2920.1 L1646.5 2920.8 L1647.3 2921.6 L1648.2 2922.3 L1649.0 2923.0 L1649.8 2923.7 L1650.6 2924.4 L1651.4 2925.1 L1652.3 2925.9 L1653.1 2926.6 L1653.9 2927.3 L1654.7 2928.0 L1655.5 2928.8 L1656.3 2929.5 L1657.2 2930.2 L1658.0 2930.9 L1658.8 2931.7 L1659.6 2932.4 L1660.4 2933.1 L1660.8 2933.4" fill="none" stroke="#ffff00" stroke-width="16.5" stroke-linecap="round" stroke-linejoin="round"/>
<path d="M1711.0 2981.0 L1711.8 2981.8 L1712.6 2982.6 L1713.4 2983.4 L1714.2 2984.2 L1715.0 2985.0 L1715.8 2985.8 L1716.5 2986.6 L1717.3 2987.4 L1718.1 2988.2 L1718.9 2989.0 L1719.7 2989.8 L1720.5 2990.6 L1721.2 2991.4 L1722.0 2992.2 L1722.8 2993.0 L1723.6 2993.8 L1724.4 2994.6 L1725.2 2995.4 L1725.9 2996.2 L1726.7 2997.0 L1727.5 2997.8 L1728.3 2998.6 L1729.1 2999.4 L1729.9 3000.3 L1730.7 3001.1 L1731.4 3001.9 L1732.2 3002.7 L1733.0 3003.6 L1733.8 3004.4 L1734.6 3005.2 L1735.4 3006.0 L1736.1 3006.9 L1736.9 3007.7 L1737.7 3008.5 L1738.5 3009.4 L1739.3 3010.2 L1740.1 3011.0 L1740.8 3011.9 L1741.2 3012.2" fill="none" stroke="#ffff00" stroke-width="16.5" stroke-linecap="round" stroke-linejoin="round"/>
<path d="M1786.5 3063.5 L1787.1 3064.3 L1787.8 3065.1 L1788.5 3066.0 L1789.2 3066.8 L1789.9 3067.6 L1790.6 3068.5 L1791.3 3069.3 L1792.0 3070.1 L1792.7 3071.0 L1793.4 3071.8 L1794.0 3072.7 L1794.7 3073.5 L1795.4 3074.3 L1796.1 3075.2 L1796.8 3076.0 L1797.5 3076.9 L1798.2 3077.7 L1798.9 3078.6 L1799.6 3079.4 L1800.3 3080.3 L1800.9 3081.2 L1801.6 3082.0 L1802.3 3082.9 L1803.0 3083.7 L1803.7 3084.6 L1804.4 3085.5 L1805.1 3086.3 L1805.8 3087.2 L1806.5 3088.1 L1807.2 3088.9 L1807.9 3089.8 L1808.5 3090.7 L1809.2 3091.6 L1809.9 3092.4 L1810.6 3093.3 L1811.3 3094.2 L1812.0 3095.1 L1812.7 3096.0 L1813.0 3096.3" fill="none" stroke="#ffff00" stroke-width="16.5" stroke-linecap="round" stroke-linejoin="round"/>
<path d="M1854.8 3153.2 L1855.5 3154.1 L1856.1 3155.0 L1856.7 3156.0 L1857.4 3156.9 L1858.0 3157.8 L1858.6 3158.7 L1859.2 3159.6 L1859.9 3160.5 L1860.5 3161.4 L1861.1 3162.4 L1861.8 3163.3 L1862.4 3164.2 L1863.0 3165.1 L1863.6 3166.1 L1864.3 3167.0 L1864.9 3167.9 L1865.5 3168.9 L1866.2 3169.8 L1866.8 3170.7 L1867.4 3171.7 L1868.0 3172.6 L1868.7 3173.5 L1869.3 3174.5 L1869.9 3175.4 L1870.6 3176.4 L1871.2 3177.3 L1871.8 3178.3 L1872.4 3179.2 L1873.1 3180.2 L1873.7 3181.1 L1874.3 3182.1 L1875.0 3183.0 L1875.6 3184.0 L1875.8 3184.3" fill="none" stroke="#ffff00" stroke-width="16.5" stroke-linecap="round" stroke-linejoin="round"/>
<path d="M1908.7 3237.2 L1909.2 3238.2 L1909.8 3239.1 L1910.4 3240.1 L1910.9 3241.1 L1911.5 3242.0 L1912.1 3243.0 L1912.6 3244.0 L1913.2 3244.9 L1913.8 3245.9 L1914.3 3246.9 L1914.9 3247.9 L1915.5 3248.9 L1916.1 3249.9 L1916.6 3250.8 L1917.2 3251.8 L1917.8 3252.8 L1918.3 3253.8 L1918.9 3254.8 L1919.5 3255.8 L1920.0 3256.8 L1920.6 3257.8 L1921.2 3258.8 L1921.7 3259.8 L1922.3 3260.8 L1922.9 3261.8 L1923.5 3262.8 L1924.0 3263.8 L1924.6 3264.9 L1925.2 3265.9 L1925.7 3266.9 L1926.3 3267.9 L1926.9 3268.9 L1927.4 3269.9 L1928.0 3271.0 L1928.6 3272.0 L1929.0 3272.7" fill="none" stroke="#ffff00" stroke-width="16.5" stroke-linecap="round" stroke-linejoin="round"/>
<path d="M1961.5 3334.6 L1962.0 3335.6 L1962.5 3336.6 L1963.0 3337.6 L1963.5 3338.6 L1964.0 3339.6 L1964.5 3340.6 L1965.0 3341.6 L1965.5 3342.7 L1966.0 3343.7 L1966.5 3344.7 L1967.0 3345.7 L1967.5 3346.8 L1968.0 3347.8 L1968.5 3348.8 L1969.0 3349.8 L1969.5 3350.9 L1970.0 3351.9 L1970.5 3353.0 L1971.0 3354.0 L1971.5 3355.0 L1972.0 3356.1 L1972.5 3357.1 L1973.0 3358.2 L1973.5 3359.2 L1974.0 3360.3 L1974.5 3361.3 L1975.0 3362.4 L1975.5 3363.4 L1976.0 3364.5 L1976.5 3365.5 L1977.0 3366.6 L1977.5 3367.7 L1978.0 3368.7 L1978.5 3369.8 L1979.0 3370.9 L1979.5 3371.9 L1980.0 3373.0 L1980.5 3374.1 L1980.7 3374.5" fill="none" stroke="#ffff00" stroke-width="16.5" stroke-linecap="round" stroke-linejoin="round"/>
<path d="M2010.4 3441.9 L2010.8 3443.0 L2011.3 3444.1 L2011.7 3445.2 L2012.2 3446.4 L2012.7 3447.5 L2013.1 3448.6 L2013.6 3449.7 L2014.1 3450.9 L2014.5 3452.0 L2015.0 3453.1 L2015.5 3454.3 L2015.9 3455.4 L2016.4 3456.5 L2016.9 3457.7 L2017.3 3458.8 L2017.8 3460.0 L2018.3 3461.1 L2018.7 3462.2 L2019.1 3463.3 L2019.6 3464.3 L2020.0 3465.4 L2020.4 3466.5 L2020.9 3467.6 L2021.3 3468.6 L2021.7 3469.7 L2022.2 3470.8 L2022.6 3471.9 L2023.0 3473.0 L2023.5 3474.1 L2023.9 3475.1 L2024.3 3476.2 L2024.8 3477.3 L2025.2 3478.4 L2025.6 3479.5 L2026.1 3480.6 L2026.5 3481.7 L2026.9 3482.8 L2026.9 3482.9" fill="none" stroke="#ffff00" stroke-width="16.5" stroke-linecap="round" stroke-linejoin="round"/>
<path d="M2051.1 3547.3 L2051.5 3548.5 L2051.9 3549.7 L2052.3 3550.9 L2052.7 3552.0 L2053.1 3553.2 L2053.6 3554.4 L2054.0 3555.6 L2054.4 3556.8 L2054.8 3558.0 L2055.2 3559.1 L2055.6 3560.2 L2056.0 3561.3 L2056.4 3562.4 L2056.8 3563.5 L2057.2 3564.7 L2057.5 3565.8 L2057.9 3566.9 L2058.3 3568.0 L2058.7 3569.2 L2059.1 3570.3 L2059.5 3571.4 L2059.9 3572.5 L2060.3 3573.7 L2060.7 3574.8 L2061.1 3576.0 L2061.4 3577.1 L2061.8 3578.2 L2062.2 3579.4 L2062.6 3580.5 L2063.0 3581.7 L2063.4 3582.8 L2063.8 3584.0 L2064.2 3585.1 L2064.6 3586.3 L2064.9 3587.4" fill="none" stroke="#ffff00" stroke-width="16.5" stroke-linecap="round" stroke-linejoin="round"/>
</g>
<line x1="414.1" y1="1255.0" x2="488.0" y2="1255.0" stroke="#ff0000" stroke-width="20.6" stroke-linecap="round"/>
<line x1="414.1" y1="1363.7" x2="609.8" y2="1363.7" stroke="#00ffff" stroke-width="20.6" stroke-linecap="round"/>
<line x1="414.1" y1="1472.0" x2="609.8" y2="1472.0" stroke="#00ff00" stroke-width="20.6" stroke-linecap="round"/>
<line x1="728.8" y1="2019.0" x2="939.1" y2="2019.0" stroke="#ff0000" stroke-width="20.6" stroke-linecap="round"/>
<line x1="449.2" y1="3067.0" x2="490.9" y2="3067.0" stroke="#ffff00" stroke-width="16.6" stroke-linecap="round"/>
<line x1="561.1" y1="3067.0" x2="602.8" y2="3067.0" stroke="#ffff00" stroke-width="16.6" stroke-linecap="round"/>
<line x1="449.2" y1="3176.8" x2="648.8" y2="3176.8" stroke="#ff00ff" stroke-width="20.6" stroke-linecap="round"/>
<circle cx="1829.6" cy="935.8" r="25.7" fill="#0000ff"/>
<circle cx="1821.7" cy="927.6" r="12.6" fill="#7070ff"/>
<circle cx="1821.7" cy="927.6" r="9.6" fill="#b4b4ff"/>
<circle cx="1821.7" cy="927.6" r="4.5" fill="#fcfcff"/>
<rect x="1334.8" y="1668.3" width="13.6" height="53.5" fill="#0000ff"/>
<path d="M1323.80 1719.80 L1359.40 1719.80 Q1364.40 1719.80 1363.33 1724.68 L1347.95 1794.89 A6.50 6.50 0 0 1 1335.25 1794.89 L1319.87 1724.68 Q1318.80 1719.80 1323.80 1719.80Z" fill="#0000ff"/>
<rect x="2072.2" y="1507.0" width="13.6" height="103.1" fill="#ff00ff"/>
<path d="M2061.20 1608.10 L2096.80 1608.10 Q2101.80 1608.10 2100.71 1612.98 L2085.34 1681.91 A6.50 6.50 0 0 1 2072.66 1681.91 L2057.29 1612.98 Q2056.20 1608.10 2061.20 1608.10Z" fill="#ff00ff"/>
<rect x="1379.2" y="3438.0" width="13.6" height="52.0" fill="#0000ff"/>
<path d="M1368.20 3488.00 L1403.80 3488.00 Q1408.80 3488.00 1407.76 3492.89 L1392.36 3565.35 A6.50 6.50 0 0 1 1379.64 3565.35 L1364.24 3492.89 Q1363.20 3488.00 1368.20 3488.00Z" fill="#0000ff"/>
<rect x="2072.0" y="3352.0" width="13.6" height="101.0" fill="#ff00ff"/>
<path d="M2061.00 3451.00 L2096.60 3451.00 Q2101.60 3451.00 2100.54 3455.89 L2085.15 3526.68 A6.50 6.50 0 0 1 2072.45 3526.68 L2057.06 3455.89 Q2056.00 3451.00 2061.00 3451.00Z" fill="#ff00ff"/>
<g fill="#000" stroke="#000" stroke-width="0.78" stroke-linejoin="round" transform="translate(0 103.28) scale(1 1.0300) translate(0 -103.28)"><text x="148.03" y="103.28" font-family="'Liberation Sans', sans-serif" font-size="86.15" xml:space="preserve">800</text></g>
<g fill="#000" stroke="#000" stroke-width="0.78" stroke-linejoin="round" transform="translate(0 544.16) scale(1 1.0300) translate(0 -544.16)"><text x="148.03" y="544.16" font-family="'Liberation Sans', sans-serif" font-size="86.15" xml:space="preserve">600</text></g>
<g fill="#000" stroke="#000" stroke-width="0.78" stroke-linejoin="round" transform="translate(0 985.04) scale(1 1.0300) translate(0 -985.04)"><text x="148.03" y="985.04" font-family="'Liberation Sans', sans-serif" font-size="86.15" xml:space="preserve">400</text></g>
<g fill="#000" stroke="#000" stroke-width="0.78" stroke-linejoin="round" transform="translate(0 1425.92) scale(1 1.0300) translate(0 -1425.92)"><text x="148.03" y="1425.92" font-family="'Liberation Sans', sans-serif" font-size="86.15" xml:space="preserve">200</text></g>
<g fill="#000" stroke="#000" stroke-width="0.78" stroke-linejoin="round" transform="translate(0 1866.80) scale(1 1.0300) translate(0 -1866.80)"><text x="243.85" y="1866.80" font-family="'Liberation Sans', sans-serif" font-size="86.15" xml:space="preserve">0</text></g>
<g fill="#000" stroke="#000" stroke-width="0.81" stroke-linejoin="round" transform="translate(0 2308.62) scale(1 1.0300) translate(0 -2308.62)"><text x="140.94" y="2308.62" font-family="'Liberation Sans', sans-serif" font-size="89.83" xml:space="preserve">600</text></g>
<g fill="#000" stroke="#000" stroke-width="0.81" stroke-linejoin="round" transform="translate(0 2751.28) scale(1 1.0300) translate(0 -2751.28)"><text x="140.94" y="2751.28" font-family="'Liberation Sans', sans-serif" font-size="89.83" xml:space="preserve">400</text></g>
<g fill="#000" stroke="#000" stroke-width="0.81" stroke-linejoin="round" transform="translate(0 3193.94) scale(1 1.0300) translate(0 -3193.94)"><text x="140.94" y="3193.94" font-family="'Liberation Sans', sans-serif" font-size="89.83" xml:space="preserve">200</text></g>
<g fill="#000" stroke="#000" stroke-width="0.81" stroke-linejoin="round" transform="translate(0 3636.60) scale(1 1.0300) translate(0 -3636.60)"><text x="240.85" y="3636.60" font-family="'Liberation Sans', sans-serif" font-size="89.83" xml:space="preserve">0</text></g>
<g fill="#000" stroke="#000" stroke-width="0.79" stroke-linejoin="round" transform="translate(0 3708.50) scale(1 1.0300) translate(0 -3708.50)"><text x="262.65" y="3708.50" font-family="'Liberation Sans', sans-serif" font-size="88.26" xml:space="preserve">0.0</text></g>
<g fill="#000" stroke="#000" stroke-width="0.79" stroke-linejoin="round" transform="translate(0 3708.50) scale(1 1.0300) translate(0 -3708.50)"><text x="595.31" y="3708.50" font-family="'Liberation Sans', sans-serif" font-size="88.26" xml:space="preserve">0.2</text></g>
<g fill="#000" stroke="#000" stroke-width="0.79" stroke-linejoin="round" transform="translate(0 3708.50) scale(1 1.0300) translate(0 -3708.50)"><text x="926.54" y="3708.50" font-family="'Liberation Sans', sans-serif" font-size="88.26" xml:space="preserve">0.4</text></g>
<g fill="#000" stroke="#000" stroke-width="0.79" stroke-linejoin="round" transform="translate(0 3708.50) scale(1 1.0300) translate(0 -3708.50)"><text x="1259.35" y="3708.50" font-family="'Liberation Sans', sans-serif" font-size="88.26" xml:space="preserve">0.6</text></g>
<g fill="#000" stroke="#000" stroke-width="0.79" stroke-linejoin="round" transform="translate(0 3708.50) scale(1 1.0300) translate(0 -3708.50)"><text x="1591.49" y="3708.50" font-family="'Liberation Sans', sans-serif" font-size="88.26" xml:space="preserve">0.8</text></g>
<g fill="#000" stroke="#000" stroke-width="0.79" stroke-linejoin="round" transform="translate(0 3708.50) scale(1 1.0300) translate(0 -3708.50)"><text x="1921.81" y="3708.50" font-family="'Liberation Sans', sans-serif" font-size="88.26" xml:space="preserve">1.0</text></g>
<g fill="#000" stroke="#000" stroke-width="0.79" stroke-linejoin="round" transform="translate(0 3708.50) scale(1 1.0300) translate(0 -3708.50)"><text x="2254.47" y="3708.50" font-family="'Liberation Sans', sans-serif" font-size="88.26" xml:space="preserve">1.2</text></g>
<g fill="#000" stroke="#000" stroke-width="0.85" stroke-linejoin="round" transform="rotate(-90)"><text x="-1353.91" y="111.20" font-family="'Liberation Sans', sans-serif" font-size="94.40" xml:space="preserve">critical current (nA)</text></g>
<g fill="#000" stroke="#000" stroke-width="0.85" stroke-linejoin="round" transform="rotate(-90)"><text x="-3117.82" y="106.10" font-family="'Liberation Sans', sans-serif" font-size="94.55" xml:space="preserve">critical current (nA)</text></g>
<g fill="#000" stroke="#000" stroke-width="0.85" stroke-linejoin="round"><text x="978.37" y="3858.70" font-family="'Liberation Sans', sans-serif" font-size="94.18" xml:space="preserve">temperature (K)</text></g>
<g fill="#000" stroke="#000" stroke-width="0.42" stroke-linejoin="round"><text x="389.88" y="220.00" font-family="'Liberation Sans', sans-serif" font-size="106.00" font-weight="bold" xml:space="preserve">a</text></g>
<g fill="#000" stroke="#000" stroke-width="0.42" stroke-linejoin="round"><text x="392.91" y="2009.80" font-family="'Liberation Sans', sans-serif" font-size="106.00" font-weight="bold" xml:space="preserve">b</text></g>
<g fill="#000" stroke="#000" stroke-width="0.55" stroke-linejoin="round" transform="translate(0 284.80) scale(1 1.0300) translate(0 -284.80)"><text x="660.15" y="284.80" font-family="'Liberation Sans', sans-serif" font-size="138.13" font-weight="bold" xml:space="preserve">Ta/G/Ta</text></g>
<g fill="#ff0000" stroke="#ff0000" stroke-width="0.40" stroke-linejoin="round" transform="translate(0 278.20) scale(1 1.0400) translate(0 -278.20)"><text x="1279.84" y="278.20" font-family="'Liberation Sans', sans-serif" font-size="98.93" font-style="italic" font-weight="bold" xml:space="preserve">V</text><text x="1345.82" y="304.12" font-family="'Liberation Sans', sans-serif" font-size="66.78" font-style="italic" font-weight="bold" xml:space="preserve">g</text><text x="1387.52" y="278.20" font-family="'Liberation Sans', sans-serif" font-size="98.93" font-weight="bold" xml:space="preserve"> = 10 V</text></g>
<g fill="#000" stroke="#000" stroke-width="0.40" stroke-linejoin="round" transform="translate(0 426.40) scale(1 1.0300) translate(0 -426.40)"><text x="1276.50" y="426.40" font-family="'Liberation Sans', sans-serif" font-size="100.32" font-weight="bold" xml:space="preserve">(Jang and Kim [63])</text></g>
<g fill="#000" stroke="#000" stroke-width="0.87" stroke-linejoin="round" transform="translate(0 583.20) scale(1 1.0300) translate(0 -583.20)"><text x="1288.25" y="583.20" font-family="'Liberation Sans', sans-serif" font-size="96.42" xml:space="preserve">2</text><text x="1341.87" y="574.72" font-family="'Liberation Sans', sans-serif" font-size="96.42" xml:space="preserve">·</text><text x="1371.36" y="583.20" font-family="'Liberation Serif', serif" font-size="99.31" stroke="none" xml:space="preserve">Δ</text><text x="1432.99" y="583.20" font-family="'Liberation Sans', sans-serif" font-size="96.42" xml:space="preserve">(0)</text><text x="1550.82" y="608.46" font-family="'Liberation Sans', sans-serif" font-size="65.08" font-style="italic" xml:space="preserve">1</text><text x="1587.82" y="583.20" font-family="'Liberation Sans', sans-serif" font-size="96.42" xml:space="preserve">/</text><text x="1614.61" y="583.20" font-family="'Liberation Sans', sans-serif" font-size="96.42" font-style="italic" xml:space="preserve">k</text><text x="1662.82" y="608.46" font-family="'Liberation Sans', sans-serif" font-size="65.08" font-style="italic" xml:space="preserve">B</text><text x="1707.19" y="574.72" font-family="'Liberation Sans', sans-serif" font-size="96.42" xml:space="preserve">·</text><text x="1739.30" y="583.20" font-family="'Liberation Sans', sans-serif" font-size="96.42" font-style="italic" xml:space="preserve">T</text><text x="1798.19" y="608.46" font-family="'Liberation Sans', sans-serif" font-size="65.08" font-style="italic" xml:space="preserve">c1</text><text x="1868.46" y="583.20" font-family="'Liberation Sans', sans-serif" font-size="96.42" xml:space="preserve"> = 21 ± 1</text></g>
<g fill="#000" stroke="#000" stroke-width="0.87" stroke-linejoin="round" transform="translate(0 735.30) scale(1 1.0300) translate(0 -735.30)"><text x="1288.25" y="735.30" font-family="'Liberation Sans', sans-serif" font-size="96.42" xml:space="preserve">2</text><text x="1341.87" y="726.82" font-family="'Liberation Sans', sans-serif" font-size="96.42" xml:space="preserve">·</text><text x="1371.36" y="735.30" font-family="'Liberation Serif', serif" font-size="99.31" stroke="none" xml:space="preserve">Δ</text><text x="1432.99" y="735.30" font-family="'Liberation Sans', sans-serif" font-size="96.42" xml:space="preserve">(0)</text><text x="1550.82" y="760.56" font-family="'Liberation Sans', sans-serif" font-size="65.08" font-style="italic" xml:space="preserve">2</text><text x="1587.82" y="735.30" font-family="'Liberation Sans', sans-serif" font-size="96.42" xml:space="preserve">/</text><text x="1614.61" y="735.30" font-family="'Liberation Sans', sans-serif" font-size="96.42" font-style="italic" xml:space="preserve">k</text><text x="1662.82" y="760.56" font-family="'Liberation Sans', sans-serif" font-size="65.08" font-style="italic" xml:space="preserve">B</text><text x="1707.19" y="726.82" font-family="'Liberation Sans', sans-serif" font-size="96.42" xml:space="preserve">·</text><text x="1739.30" y="735.30" font-family="'Liberation Sans', sans-serif" font-size="96.42" font-style="italic" xml:space="preserve">T</text><text x="1798.19" y="760.56" font-family="'Liberation Sans', sans-serif" font-size="65.08" font-style="italic" xml:space="preserve">c2</text><text x="1868.46" y="735.30" font-family="'Liberation Sans', sans-serif" font-size="96.42" xml:space="preserve"> = 3 ± 1</text></g>
<g fill="#000" stroke="#000" stroke-width="0.85" stroke-linejoin="round" transform="translate(0 970.10) scale(1 1.0300) translate(0 -970.10)"><text x="1943.84" y="970.10" font-family="'Liberation Sans', sans-serif" font-size="95.00" font-style="italic" xml:space="preserve">I</text><text x="1970.24" y="994.99" font-family="'Liberation Sans', sans-serif" font-size="64.12" font-style="italic" xml:space="preserve">c</text><text x="2003.01" y="970.10" font-family="'Liberation Sans', sans-serif" font-size="95.00" xml:space="preserve">(sf,</text><text x="2134.93" y="970.10" font-family="'Liberation Sans', sans-serif" font-size="95.00" font-style="italic" xml:space="preserve">T</text><text x="2192.96" y="970.10" font-family="'Liberation Sans', sans-serif" font-size="95.00" xml:space="preserve">)</text></g>
<g fill="#000" stroke="#000" stroke-width="0.83" stroke-linejoin="round" transform="translate(0 1003.20) scale(1 1.0300) translate(0 -1003.20)"><text x="411.07" y="1003.20" font-family="'Liberation Serif', serif" font-size="95.35" stroke="none" xml:space="preserve">Δ</text><text x="470.25" y="1003.20" font-family="'Liberation Sans', sans-serif" font-size="92.58" font-style="italic" xml:space="preserve">C</text><text x="537.10" y="1027.46" font-family="'Liberation Sans', sans-serif" font-size="62.49" font-style="italic" xml:space="preserve">1</text><text x="572.63" y="1003.20" font-family="'Liberation Sans', sans-serif" font-size="92.58" xml:space="preserve">/</text><text x="598.35" y="1003.20" font-family="'Liberation Sans', sans-serif" font-size="92.58" font-style="italic" xml:space="preserve">C</text><text x="665.21" y="1027.46" font-family="'Liberation Sans', sans-serif" font-size="62.49" font-style="italic" xml:space="preserve">1</text><text x="700.73" y="1003.20" font-family="'Liberation Sans', sans-serif" font-size="92.58" xml:space="preserve"> = 17.1 ± 0.6</text></g>
<g fill="#000" stroke="#000" stroke-width="0.83" stroke-linejoin="round" transform="translate(0 1149.00) scale(1 1.0300) translate(0 -1149.00)"><text x="411.07" y="1149.00" font-family="'Liberation Serif', serif" font-size="95.35" stroke="none" xml:space="preserve">Δ</text><text x="470.25" y="1149.00" font-family="'Liberation Sans', sans-serif" font-size="92.58" font-style="italic" xml:space="preserve">C</text><text x="537.10" y="1173.26" font-family="'Liberation Sans', sans-serif" font-size="62.49" font-style="italic" xml:space="preserve">2</text><text x="572.63" y="1149.00" font-family="'Liberation Sans', sans-serif" font-size="92.58" xml:space="preserve">/</text><text x="598.35" y="1149.00" font-family="'Liberation Sans', sans-serif" font-size="92.58" font-style="italic" xml:space="preserve">C</text><text x="665.21" y="1173.26" font-family="'Liberation Sans', sans-serif" font-size="62.49" font-style="italic" xml:space="preserve">2</text><text x="700.73" y="1149.00" font-family="'Liberation Sans', sans-serif" font-size="92.58" xml:space="preserve"> = 2.9 ± 3.8</text></g>
<g fill="#000" stroke="#000" stroke-width="0.78" stroke-linejoin="round"><text x="658.83" y="1285.00" font-family="'Liberation Sans', sans-serif" font-size="86.20" xml:space="preserve">Band 1</text></g>
<g fill="#000" stroke="#000" stroke-width="0.78" stroke-linejoin="round"><text x="658.83" y="1394.30" font-family="'Liberation Sans', sans-serif" font-size="86.20" xml:space="preserve">Band 2</text></g>
<g fill="#000" stroke="#000" stroke-width="0.77" stroke-linejoin="round"><text x="660.49" y="1502.20" font-family="'Liberation Sans', sans-serif" font-size="85.20" xml:space="preserve">fit to two-band ballistic model</text></g>
<g fill="#0000ff" stroke="#0000ff" stroke-width="0.48" stroke-linejoin="round" transform="translate(0 1627.00) scale(1 1.0400) translate(0 -1627.00)"><text x="1274.65" y="1627.00" font-family="'Liberation Sans', sans-serif" font-size="120.80" font-style="italic" font-weight="bold" xml:space="preserve">T</text><text x="1345.05" y="1658.65" font-family="'Liberation Sans', sans-serif" font-size="81.54" font-style="italic" font-weight="bold" xml:space="preserve">c2</text></g>
<g fill="#ff00ff" stroke="#ff00ff" stroke-width="0.48" stroke-linejoin="round" transform="translate(0 1436.10) scale(1 1.0400) translate(0 -1436.10)"><text x="2009.55" y="1436.10" font-family="'Liberation Sans', sans-serif" font-size="120.80" font-style="italic" font-weight="bold" xml:space="preserve">T</text><text x="2079.95" y="1467.75" font-family="'Liberation Sans', sans-serif" font-size="81.54" font-style="italic" font-weight="bold" xml:space="preserve">c1</text></g>
<g fill="#000" stroke="#000" stroke-width="0.83" stroke-linejoin="round"><text x="992.70" y="2050.60" font-family="'Liberation Sans', sans-serif" font-size="92.15" xml:space="preserve">fit to two-band AB model [51,52]</text></g>
<g fill="#000" stroke="#000" stroke-width="0.86" stroke-linejoin="round" transform="translate(0 2249.00) scale(1 1.0300) translate(0 -2249.00)"><text x="1198.22" y="2249.00" font-family="'Liberation Sans', sans-serif" font-size="95.09" xml:space="preserve">2</text><text x="1251.10" y="2240.63" font-family="'Liberation Sans', sans-serif" font-size="95.09" xml:space="preserve">·</text><text x="1280.18" y="2249.00" font-family="'Liberation Serif', serif" font-size="97.94" stroke="none" xml:space="preserve">Δ</text><text x="1340.96" y="2249.00" font-family="'Liberation Sans', sans-serif" font-size="95.09" xml:space="preserve">(0)</text><text x="1457.18" y="2273.91" font-family="'Liberation Sans', sans-serif" font-size="64.19" font-style="italic" xml:space="preserve">1</text><text x="1493.67" y="2249.00" font-family="'Liberation Sans', sans-serif" font-size="95.09" xml:space="preserve">/</text><text x="1520.09" y="2249.00" font-family="'Liberation Sans', sans-serif" font-size="95.09" font-style="italic" xml:space="preserve">k</text><text x="1567.63" y="2273.91" font-family="'Liberation Sans', sans-serif" font-size="64.19" font-style="italic" xml:space="preserve">B</text><text x="1611.39" y="2240.63" font-family="'Liberation Sans', sans-serif" font-size="95.09" xml:space="preserve">·</text><text x="1643.06" y="2249.00" font-family="'Liberation Sans', sans-serif" font-size="95.09" font-style="italic" xml:space="preserve">T</text><text x="1701.14" y="2273.91" font-family="'Liberation Sans', sans-serif" font-size="64.19" font-style="italic" xml:space="preserve">c1</text><text x="1770.44" y="2249.00" font-family="'Liberation Sans', sans-serif" font-size="95.09" xml:space="preserve"> = 3.0 ± 0.9</text></g>
<g fill="#000" stroke="#000" stroke-width="0.86" stroke-linejoin="round" transform="translate(0 2400.60) scale(1 1.0300) translate(0 -2400.60)"><text x="1198.22" y="2400.60" font-family="'Liberation Sans', sans-serif" font-size="95.09" xml:space="preserve">2</text><text x="1251.10" y="2392.23" font-family="'Liberation Sans', sans-serif" font-size="95.09" xml:space="preserve">·</text><text x="1280.18" y="2400.60" font-family="'Liberation Serif', serif" font-size="97.94" stroke="none" xml:space="preserve">Δ</text><text x="1340.96" y="2400.60" font-family="'Liberation Sans', sans-serif" font-size="95.09" xml:space="preserve">(0)</text><text x="1457.18" y="2425.51" font-family="'Liberation Sans', sans-serif" font-size="64.19" font-style="italic" xml:space="preserve">2</text><text x="1493.67" y="2400.60" font-family="'Liberation Sans', sans-serif" font-size="95.09" xml:space="preserve">/</text><text x="1520.09" y="2400.60" font-family="'Liberation Sans', sans-serif" font-size="95.09" font-style="italic" xml:space="preserve">k</text><text x="1567.63" y="2425.51" font-family="'Liberation Sans', sans-serif" font-size="64.19" font-style="italic" xml:space="preserve">B</text><text x="1611.39" y="2392.23" font-family="'Liberation Sans', sans-serif" font-size="95.09" xml:space="preserve">·</text><text x="1643.06" y="2400.60" font-family="'Liberation Sans', sans-serif" font-size="95.09" font-style="italic" xml:space="preserve">T</text><text x="1701.14" y="2425.51" font-family="'Liberation Sans', sans-serif" font-size="64.19" font-style="italic" xml:space="preserve">c2</text><text x="1770.44" y="2400.60" font-family="'Liberation Sans', sans-serif" font-size="95.09" xml:space="preserve"> = 1.9 ± 0.3</text></g>
<g fill="#000" stroke="#000" stroke-width="0.83" stroke-linejoin="round" transform="translate(0 2803.80) scale(1 1.0300) translate(0 -2803.80)"><text x="429.27" y="2803.80" font-family="'Liberation Serif', serif" font-size="95.37" stroke="none" xml:space="preserve">Δ</text><text x="488.46" y="2803.80" font-family="'Liberation Sans', sans-serif" font-size="92.60" font-style="italic" xml:space="preserve">C</text><text x="555.33" y="2828.06" font-family="'Liberation Sans', sans-serif" font-size="62.50" font-style="italic" xml:space="preserve">1</text><text x="590.86" y="2803.80" font-family="'Liberation Sans', sans-serif" font-size="92.60" xml:space="preserve">/</text><text x="616.59" y="2803.80" font-family="'Liberation Sans', sans-serif" font-size="92.60" font-style="italic" xml:space="preserve">C</text><text x="683.45" y="2828.06" font-family="'Liberation Sans', sans-serif" font-size="62.50" font-style="italic" xml:space="preserve">1</text><text x="718.99" y="2803.80" font-family="'Liberation Sans', sans-serif" font-size="92.60" xml:space="preserve"> = 2.2 ± 0.8</text></g>
<g fill="#000" stroke="#000" stroke-width="0.83" stroke-linejoin="round" transform="translate(0 2950.60) scale(1 1.0300) translate(0 -2950.60)"><text x="429.27" y="2950.60" font-family="'Liberation Serif', serif" font-size="95.37" stroke="none" xml:space="preserve">Δ</text><text x="488.46" y="2950.60" font-family="'Liberation Sans', sans-serif" font-size="92.60" font-style="italic" xml:space="preserve">C</text><text x="555.33" y="2974.86" font-family="'Liberation Sans', sans-serif" font-size="62.50" font-style="italic" xml:space="preserve">2</text><text x="590.86" y="2950.60" font-family="'Liberation Sans', sans-serif" font-size="92.60" xml:space="preserve">/</text><text x="616.59" y="2950.60" font-family="'Liberation Sans', sans-serif" font-size="92.60" font-style="italic" xml:space="preserve">C</text><text x="683.45" y="2974.86" font-family="'Liberation Sans', sans-serif" font-size="62.50" font-style="italic" xml:space="preserve">2</text><text x="718.99" y="2950.60" font-family="'Liberation Sans', sans-serif" font-size="92.60" xml:space="preserve"> = 1.1 ± 0.9</text></g>
<g fill="#000" stroke="#000" stroke-width="0.80" stroke-linejoin="round"><text x="697.55" y="3099.00" font-family="'Liberation Sans', sans-serif" font-size="88.38" xml:space="preserve">Band 1</text></g>
<g fill="#000" stroke="#000" stroke-width="0.80" stroke-linejoin="round"><text x="697.55" y="3209.00" font-family="'Liberation Sans', sans-serif" font-size="88.38" xml:space="preserve">Band 2</text></g>
<g fill="#0000ff" stroke="#0000ff" stroke-width="0.48" stroke-linejoin="round" transform="translate(0 3377.00) scale(1 1.0400) translate(0 -3377.00)"><text x="1312.45" y="3377.00" font-family="'Liberation Sans', sans-serif" font-size="120.80" font-style="italic" font-weight="bold" xml:space="preserve">T</text><text x="1382.85" y="3408.65" font-family="'Liberation Sans', sans-serif" font-size="81.54" font-style="italic" font-weight="bold" xml:space="preserve">c2</text></g>
<g fill="#ff00ff" stroke="#ff00ff" stroke-width="0.48" stroke-linejoin="round" transform="translate(0 3283.90) scale(1 1.0400) translate(0 -3283.90)"><text x="2011.75" y="3283.90" font-family="'Liberation Sans', sans-serif" font-size="120.80" font-style="italic" font-weight="bold" xml:space="preserve">T</text><text x="2082.15" y="3315.55" font-family="'Liberation Sans', sans-serif" font-size="81.54" font-style="italic" font-weight="bold" xml:space="preserve">c1</text></g>
</svg></body></html>
